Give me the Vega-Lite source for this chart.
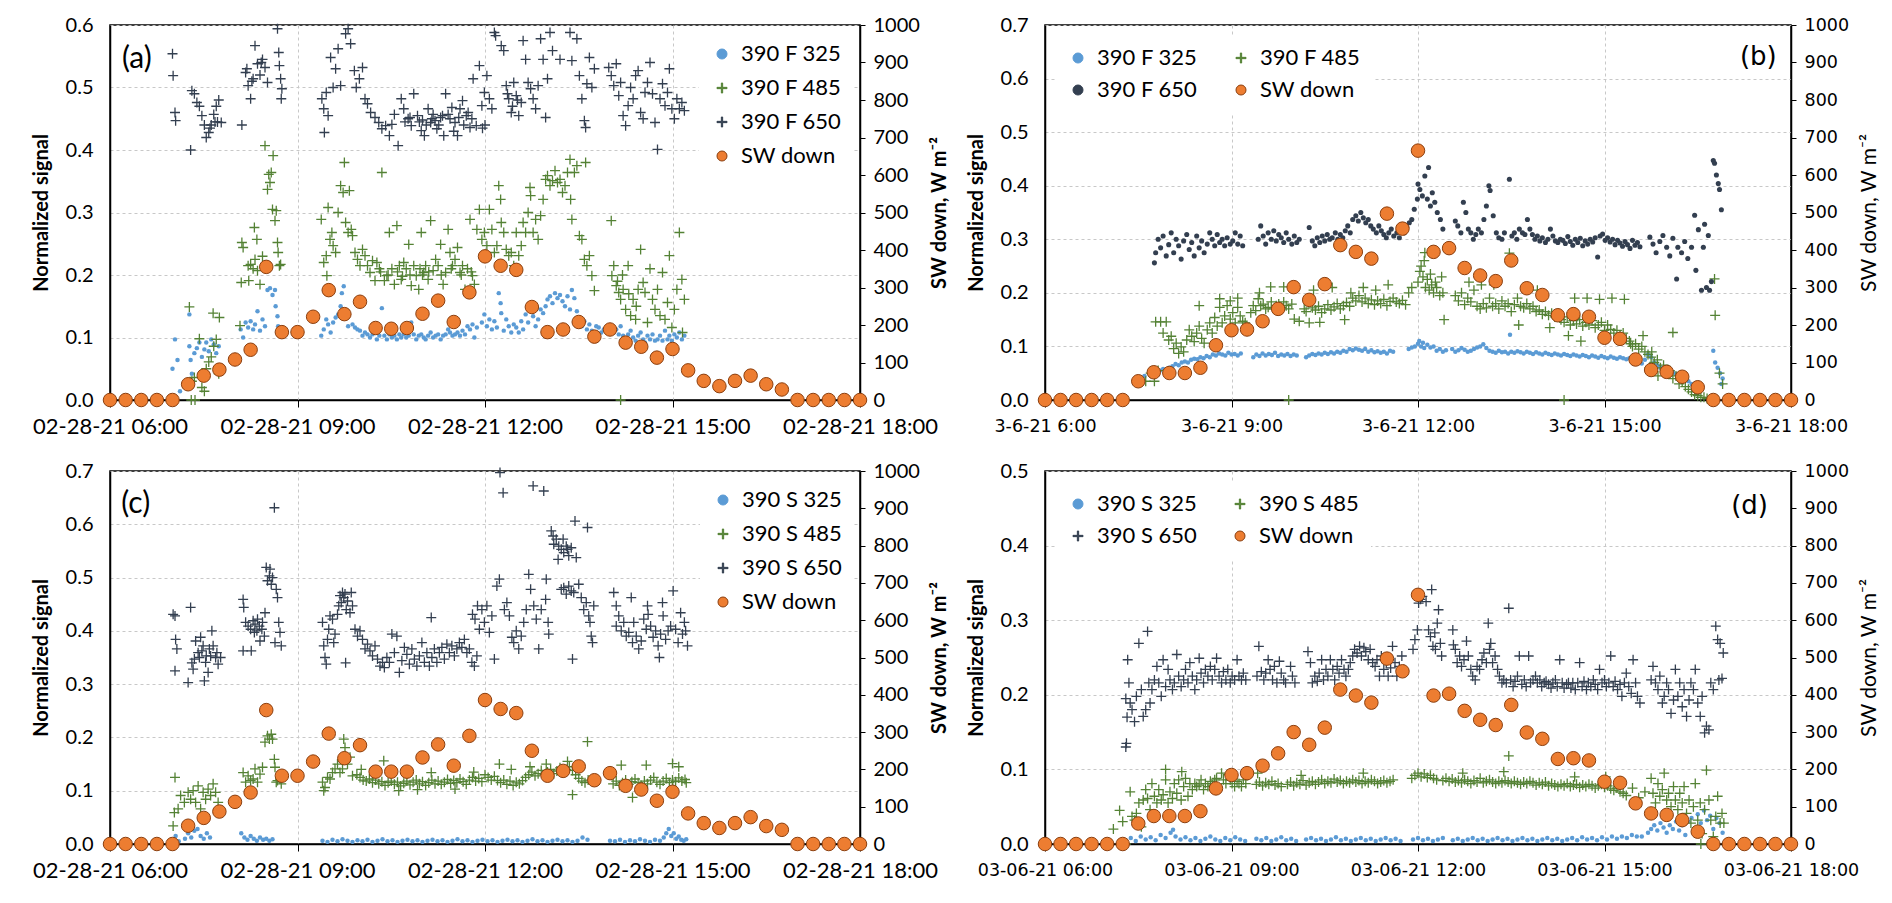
{
"$schema":"https://vega.github.io/schema/vega-lite/v6.json",
"background":"white",
"padding":{"left":30,"top":14,"right":5,"bottom":5},
"config":{
 "font":"Lato",
 "view":{"stroke":"#000","strokeWidth":1.5},
 "axis":{"labelColor":"#000","titleColor":"#000","domainColor":"#000","domainWidth":1.5,"tickColor":"#000","gridColor":"#C8C8C8","gridDash":[3,3],"gridWidth":1,"labelFont":"Lato","titleFont":"Lato","labelFontSize":20,"titleFontSize":20},
 "legend":{"labelFont":"Lato","labelFontSize":22,"labelColor":"#000","labelLimit":300}
},
"datasets":{
"a":[
{"s":"390 F 325","t":7.0,"v":0.05},{"s":"390 F 325","t":7.04,"v":0.097},{"s":"390 F 325","t":7.08,"v":0.064},{"s":"390 F 325","t":7.12,"v":0.014},{"s":"390 F 325","t":7.27,"v":0.086},{"s":"390 F 325","t":7.29,"v":0.064},{"s":"390 F 325","t":7.31,"v":0.042},{"s":"390 F 325","t":7.35,"v":0.075},{"s":"390 F 325","t":7.39,"v":0.083},{"s":"390 F 325","t":7.43,"v":0.092},{"s":"390 F 325","t":7.47,"v":0.069},{"s":"390 F 325","t":7.51,"v":0.081},{"s":"390 F 325","t":7.54,"v":0.092},{"s":"390 F 325","t":7.58,"v":0.078},{"s":"390 F 325","t":7.62,"v":0.097},{"s":"390 F 325","t":7.66,"v":0.089},{"s":"390 F 325","t":7.7,"v":0.075},{"s":"390 F 325","t":7.74,"v":0.086},{"s":"390 F 325","t":7.27,"v":0.137},
{"s":"390 F 325","t":8.09,"v":0.113},{"s":"390 F 325","t":8.13,"v":0.1},{"s":"390 F 325","t":8.17,"v":0.124},{"s":"390 F 325","t":8.21,"v":0.116},{"s":"390 F 325","t":8.25,"v":0.126},{"s":"390 F 325","t":8.29,"v":0.113},{"s":"390 F 325","t":8.32,"v":0.121},{"s":"390 F 325","t":8.36,"v":0.142},{"s":"390 F 325","t":8.4,"v":0.111},{"s":"390 F 325","t":8.44,"v":0.129},{"s":"390 F 325","t":8.48,"v":0.118},{"s":"390 F 325","t":8.52,"v":0.176},{"s":"390 F 325","t":8.56,"v":0.179},{"s":"390 F 325","t":8.6,"v":0.168},{"s":"390 F 325","t":8.64,"v":0.176},{"s":"390 F 325","t":8.65,"v":0.15},{"s":"390 F 325","t":8.68,"v":0.134},{"s":"390 F 325","t":8.69,"v":0.118},{"s":"390 F 325","t":8.71,"v":0.108},{"s":"390 F 325","t":8.75,"v":0.105},
{"s":"390 F 325","t":9.38,"v":0.103},{"s":"390 F 325","t":9.42,"v":0.113},{"s":"390 F 325","t":9.46,"v":0.129},{"s":"390 F 325","t":9.49,"v":0.121},{"s":"390 F 325","t":9.53,"v":0.108},{"s":"390 F 325","t":9.57,"v":0.124},{"s":"390 F 325","t":9.61,"v":0.132},{"s":"390 F 325","t":9.65,"v":0.137},{"s":"390 F 325","t":9.69,"v":0.15},{"s":"390 F 325","t":9.71,"v":0.171},{"s":"390 F 325","t":9.74,"v":0.182},{"s":"390 F 325","t":9.77,"v":0.137},{"s":"390 F 325","t":9.81,"v":0.118},
{"s":"390 F 325","t":9.88,"v":0.121},{"s":"390 F 325","t":9.92,"v":0.116},{"s":"390 F 325","t":9.96,"v":0.113},{"s":"390 F 325","t":10.0,"v":0.111},{"s":"390 F 325","t":10.04,"v":0.103},{"s":"390 F 325","t":10.08,"v":0.108},{"s":"390 F 325","t":10.12,"v":0.105},{"s":"390 F 325","t":10.16,"v":0.1},{"s":"390 F 325","t":10.2,"v":0.105},{"s":"390 F 325","t":10.24,"v":0.108},{"s":"390 F 325","t":10.27,"v":0.097},{"s":"390 F 325","t":10.31,"v":0.103},{"s":"390 F 325","t":10.35,"v":0.147},{"s":"390 F 325","t":10.39,"v":0.103},{"s":"390 F 325","t":10.43,"v":0.097},{"s":"390 F 325","t":10.47,"v":0.105},{"s":"390 F 325","t":10.51,"v":0.1},{"s":"390 F 325","t":10.55,"v":0.103},{"s":"390 F 325","t":10.59,"v":0.097},{"s":"390 F 325","t":10.63,"v":0.105},{"s":"390 F 325","t":10.66,"v":0.1},{"s":"390 F 325","t":10.7,"v":0.105},{"s":"390 F 325","t":10.74,"v":0.1},{"s":"390 F 325","t":10.78,"v":0.103},{"s":"390 F 325","t":10.82,"v":0.124},{"s":"390 F 325","t":10.86,"v":0.105},{"s":"390 F 325","t":10.9,"v":0.097},{"s":"390 F 325","t":10.94,"v":0.103},{"s":"390 F 325","t":10.98,"v":0.105},{"s":"390 F 325","t":11.02,"v":0.1},{"s":"390 F 325","t":11.05,"v":0.097},{"s":"390 F 325","t":11.09,"v":0.103},{"s":"390 F 325","t":11.13,"v":0.108},{"s":"390 F 325","t":11.17,"v":0.1},{"s":"390 F 325","t":11.21,"v":0.103},{"s":"390 F 325","t":11.25,"v":0.105},{"s":"390 F 325","t":11.29,"v":0.097},{"s":"390 F 325","t":11.33,"v":0.103},{"s":"390 F 325","t":11.37,"v":0.105},{"s":"390 F 325","t":11.41,"v":0.113},{"s":"390 F 325","t":11.44,"v":0.108},{"s":"390 F 325","t":11.48,"v":0.103},{"s":"390 F 325","t":11.52,"v":0.105},{"s":"390 F 325","t":11.56,"v":0.108},{"s":"390 F 325","t":11.6,"v":0.103},{"s":"390 F 325","t":11.64,"v":0.111},{"s":"390 F 325","t":11.68,"v":0.105},{"s":"390 F 325","t":11.72,"v":0.118},{"s":"390 F 325","t":11.76,"v":0.113},{"s":"390 F 325","t":11.8,"v":0.121},{"s":"390 F 325","t":11.83,"v":0.1},{"s":"390 F 325","t":11.87,"v":0.116},
{"s":"390 F 325","t":11.95,"v":0.124},{"s":"390 F 325","t":11.99,"v":0.137},{"s":"390 F 325","t":12.03,"v":0.118},{"s":"390 F 325","t":12.07,"v":0.129},{"s":"390 F 325","t":12.11,"v":0.113},{"s":"390 F 325","t":12.15,"v":0.126},{"s":"390 F 325","t":12.19,"v":0.116},{"s":"390 F 325","t":12.22,"v":0.171},{"s":"390 F 325","t":12.25,"v":0.155},{"s":"390 F 325","t":12.26,"v":0.139},{"s":"390 F 325","t":12.3,"v":0.111},{"s":"390 F 325","t":12.34,"v":0.129},{"s":"390 F 325","t":12.38,"v":0.118},{"s":"390 F 325","t":12.42,"v":0.108},{"s":"390 F 325","t":12.46,"v":0.121},{"s":"390 F 325","t":12.5,"v":0.116},{"s":"390 F 325","t":12.54,"v":0.108},{"s":"390 F 325","t":12.58,"v":0.126},{"s":"390 F 325","t":12.61,"v":0.113},{"s":"390 F 325","t":12.65,"v":0.137},{"s":"390 F 325","t":12.69,"v":0.124},{"s":"390 F 325","t":12.73,"v":0.147},{"s":"390 F 325","t":12.77,"v":0.134},{"s":"390 F 325","t":12.81,"v":0.118},{"s":"390 F 325","t":12.85,"v":0.129},{"s":"390 F 325","t":12.89,"v":0.145},
{"s":"390 F 325","t":12.93,"v":0.139},{"s":"390 F 325","t":12.97,"v":0.15},{"s":"390 F 325","t":13.0,"v":0.161},{"s":"390 F 325","t":13.04,"v":0.166},{"s":"390 F 325","t":13.08,"v":0.155},{"s":"390 F 325","t":13.12,"v":0.171},{"s":"390 F 325","t":13.16,"v":0.163},{"s":"390 F 325","t":13.2,"v":0.168},{"s":"390 F 325","t":13.24,"v":0.158},{"s":"390 F 325","t":13.28,"v":0.15},{"s":"390 F 325","t":13.32,"v":0.166},{"s":"390 F 325","t":13.36,"v":0.145},{"s":"390 F 325","t":13.39,"v":0.176},{"s":"390 F 325","t":13.43,"v":0.163},{"s":"390 F 325","t":13.47,"v":0.142},{"s":"390 F 325","t":13.51,"v":0.129},{"s":"390 F 325","t":13.55,"v":0.118},{"s":"390 F 325","t":13.59,"v":0.126},{"s":"390 F 325","t":13.63,"v":0.113},{"s":"390 F 325","t":13.67,"v":0.121},{"s":"390 F 325","t":13.71,"v":0.111},{"s":"390 F 325","t":13.75,"v":0.108},{"s":"390 F 325","t":13.78,"v":0.118},{"s":"390 F 325","t":13.82,"v":0.116},{"s":"390 F 325","t":13.86,"v":0.108},{"s":"390 F 325","t":13.9,"v":0.113},
{"s":"390 F 325","t":13.98,"v":0.111},{"s":"390 F 325","t":14.02,"v":0.116},{"s":"390 F 325","t":14.06,"v":0.108},{"s":"390 F 325","t":14.1,"v":0.113},{"s":"390 F 325","t":14.14,"v":0.105},{"s":"390 F 325","t":14.17,"v":0.118},{"s":"390 F 325","t":14.21,"v":0.103},{"s":"390 F 325","t":14.25,"v":0.097},{"s":"390 F 325","t":14.29,"v":0.105},{"s":"390 F 325","t":14.33,"v":0.111},{"s":"390 F 325","t":14.37,"v":0.1},{"s":"390 F 325","t":14.41,"v":0.095},{"s":"390 F 325","t":14.45,"v":0.103},{"s":"390 F 325","t":14.49,"v":0.108},{"s":"390 F 325","t":14.53,"v":0.097},{"s":"390 F 325","t":14.56,"v":0.092},{"s":"390 F 325","t":14.6,"v":0.103},{"s":"390 F 325","t":14.64,"v":0.097},{"s":"390 F 325","t":14.68,"v":0.105},{"s":"390 F 325","t":14.72,"v":0.095},{"s":"390 F 325","t":14.76,"v":0.097},{"s":"390 F 325","t":14.8,"v":0.103},{"s":"390 F 325","t":14.84,"v":0.095},{"s":"390 F 325","t":14.88,"v":0.111},{"s":"390 F 325","t":14.92,"v":0.097},{"s":"390 F 325","t":14.95,"v":0.103},{"s":"390 F 325","t":14.99,"v":0.095},{"s":"390 F 325","t":15.03,"v":0.105},{"s":"390 F 325","t":15.07,"v":0.1},{"s":"390 F 325","t":15.11,"v":0.108},{"s":"390 F 325","t":15.15,"v":0.097},{"s":"390 F 325","t":15.19,"v":0.103},
{"s":"390 F 485","t":7.27,"v":0.149},{"s":"390 F 485","t":7.31,"v":0.03},{"s":"390 F 485","t":7.35,"v":0.036},{"s":"390 F 485","t":7.43,"v":0.098},{"s":"390 F 485","t":7.47,"v":0.02},{"s":"390 F 485","t":7.51,"v":0.014},{"s":"390 F 485","t":7.54,"v":0.05},{"s":"390 F 485","t":7.58,"v":0.061},{"s":"390 F 485","t":7.62,"v":0.069},{"s":"390 F 485","t":7.66,"v":0.086},{"s":"390 F 485","t":7.7,"v":0.097},{"s":"390 F 485","t":7.74,"v":0.042},{"s":"390 F 485","t":7.65,"v":0.139},{"s":"390 F 485","t":7.75,"v":0.132},{"s":"390 F 485","t":7.3,"v":0.0},{"s":"390 F 485","t":7.36,"v":0.0},
{"s":"390 F 485","t":8.11,"v":0.252},{"s":"390 F 485","t":8.13,"v":0.244},{"s":"390 F 485","t":8.21,"v":0.215},{"s":"390 F 485","t":8.25,"v":0.217},{"s":"390 F 485","t":8.29,"v":0.21},{"s":"390 F 485","t":8.32,"v":0.225},{"s":"390 F 485","t":8.36,"v":0.207},{"s":"390 F 485","t":8.4,"v":0.185},{"s":"390 F 485","t":8.22,"v":0.191},{"s":"390 F 485","t":8.31,"v":0.276},{"s":"390 F 485","t":8.35,"v":0.257},{"s":"390 F 485","t":8.44,"v":0.23},{"s":"390 F 485","t":8.48,"v":0.407},{"s":"390 F 485","t":8.52,"v":0.337},{"s":"390 F 485","t":8.54,"v":0.361},{"s":"390 F 485","t":8.56,"v":0.348},{"s":"390 F 485","t":8.58,"v":0.364},{"s":"390 F 485","t":8.6,"v":0.305},{"s":"390 F 485","t":8.61,"v":0.391},{"s":"390 F 485","t":8.64,"v":0.287},{"s":"390 F 485","t":8.66,"v":0.303},{"s":"390 F 485","t":8.68,"v":0.252},{"s":"390 F 485","t":8.69,"v":0.236},{"s":"390 F 485","t":8.71,"v":0.215},{"s":"390 F 485","t":8.73,"v":0.217},{"s":"390 F 485","t":8.1,"v":0.188},{"s":"390 F 485","t":8.08,"v":0.119},
{"s":"390 F 485","t":9.38,"v":0.289},{"s":"390 F 485","t":9.42,"v":0.22},{"s":"390 F 485","t":9.46,"v":0.231},{"s":"390 F 485","t":9.47,"v":0.199},{"s":"390 F 485","t":9.49,"v":0.308},{"s":"390 F 485","t":9.52,"v":0.257},{"s":"390 F 485","t":9.55,"v":0.268},{"s":"390 F 485","t":9.57,"v":0.247},{"s":"390 F 485","t":9.61,"v":0.236},{"s":"390 F 485","t":9.65,"v":0.3},{"s":"390 F 485","t":9.69,"v":0.343},{"s":"390 F 485","t":9.73,"v":0.332},{"s":"390 F 485","t":9.75,"v":0.38},{"s":"390 F 485","t":9.77,"v":0.284},{"s":"390 F 485","t":9.81,"v":0.268},{"s":"390 F 485","t":9.83,"v":0.335},{"s":"390 F 485","t":9.86,"v":0.273},{"s":"390 F 485","t":9.88,"v":0.263},{"s":"390 F 485","t":9.92,"v":0.236},{"s":"390 F 485","t":9.96,"v":0.225},{"s":"390 F 485","t":10.0,"v":0.215},{"s":"390 F 485","t":10.04,"v":0.241},{"s":"390 F 485","t":10.08,"v":0.231},{"s":"390 F 485","t":10.12,"v":0.215},{"s":"390 F 485","t":10.16,"v":0.204},{"s":"390 F 485","t":10.2,"v":0.223},{"s":"390 F 485","t":10.24,"v":0.191},{"s":"390 F 485","t":10.27,"v":0.22},{"s":"390 F 485","t":10.31,"v":0.21},{"s":"390 F 485","t":10.35,"v":0.364},{"s":"390 F 485","t":10.39,"v":0.191},{"s":"390 F 485","t":10.43,"v":0.199},{"s":"390 F 485","t":10.47,"v":0.268},{"s":"390 F 485","t":10.51,"v":0.21},{"s":"390 F 485","t":10.55,"v":0.185},{"s":"390 F 485","t":10.59,"v":0.279},{"s":"390 F 485","t":10.63,"v":0.215},{"s":"390 F 485","t":10.66,"v":0.193},{"s":"390 F 485","t":10.7,"v":0.22},{"s":"390 F 485","t":10.74,"v":0.21},{"s":"390 F 485","t":10.78,"v":0.249},{"s":"390 F 485","t":10.82,"v":0.183},{"s":"390 F 485","t":10.86,"v":0.215},{"s":"390 F 485","t":10.9,"v":0.199},{"s":"390 F 485","t":10.94,"v":0.177},{"s":"390 F 485","t":10.98,"v":0.268},{"s":"390 F 485","t":11.02,"v":0.204},{"s":"390 F 485","t":11.05,"v":0.215},{"s":"390 F 485","t":11.09,"v":0.193},{"s":"390 F 485","t":11.13,"v":0.287},{"s":"390 F 485","t":11.17,"v":0.207},{"s":"390 F 485","t":11.21,"v":0.225},{"s":"390 F 485","t":11.25,"v":0.215},{"s":"390 F 485","t":11.29,"v":0.249},{"s":"390 F 485","t":11.33,"v":0.185},{"s":"390 F 485","t":11.37,"v":0.204},{"s":"390 F 485","t":11.41,"v":0.273},{"s":"390 F 485","t":11.44,"v":0.236},{"s":"390 F 485","t":11.48,"v":0.215},{"s":"390 F 485","t":11.52,"v":0.225},{"s":"390 F 485","t":11.56,"v":0.244},{"s":"390 F 485","t":11.6,"v":0.204},{"s":"390 F 485","t":11.64,"v":0.215},{"s":"390 F 485","t":11.68,"v":0.177},{"s":"390 F 485","t":11.72,"v":0.21},{"s":"390 F 485","t":11.76,"v":0.289},{"s":"390 F 485","t":11.8,"v":0.199},{"s":"390 F 485","t":11.83,"v":0.185},{"s":"390 F 485","t":11.87,"v":0.273},
{"s":"390 F 485","t":10.45,"v":0.2},{"s":"390 F 485","t":10.6,"v":0.205},{"s":"390 F 485","t":10.8,"v":0.2},{"s":"390 F 485","t":10.96,"v":0.21},{"s":"390 F 485","t":11.1,"v":0.205},{"s":"390 F 485","t":11.3,"v":0.2},{"s":"390 F 485","t":11.46,"v":0.21},{"s":"390 F 485","t":11.62,"v":0.2},{"s":"390 F 485","t":11.78,"v":0.205},{"s":"390 F 485","t":10.33,"v":0.205},{"s":"390 F 485","t":10.68,"v":0.198},{"s":"390 F 485","t":11.0,"v":0.2},
{"s":"390 F 485","t":11.91,"v":0.305},{"s":"390 F 485","t":11.95,"v":0.257},{"s":"390 F 485","t":11.99,"v":0.268},{"s":"390 F 485","t":12.03,"v":0.247},{"s":"390 F 485","t":12.07,"v":0.305},{"s":"390 F 485","t":12.11,"v":0.273},{"s":"390 F 485","t":12.15,"v":0.236},{"s":"390 F 485","t":12.19,"v":0.247},{"s":"390 F 485","t":12.22,"v":0.343},{"s":"390 F 485","t":12.25,"v":0.321},{"s":"390 F 485","t":12.26,"v":0.284},{"s":"390 F 485","t":12.3,"v":0.268},{"s":"390 F 485","t":12.34,"v":0.241},{"s":"390 F 485","t":12.38,"v":0.231},{"s":"390 F 485","t":12.42,"v":0.236},{"s":"390 F 485","t":12.46,"v":0.215},{"s":"390 F 485","t":12.5,"v":0.268},{"s":"390 F 485","t":12.54,"v":0.231},{"s":"390 F 485","t":12.58,"v":0.247},{"s":"390 F 485","t":12.61,"v":0.284},{"s":"390 F 485","t":12.65,"v":0.268},{"s":"390 F 485","t":12.69,"v":0.3},{"s":"390 F 485","t":12.72,"v":0.34},{"s":"390 F 485","t":12.73,"v":0.327},{"s":"390 F 485","t":12.77,"v":0.268},{"s":"390 F 485","t":12.81,"v":0.289},{"s":"390 F 485","t":12.85,"v":0.257},{"s":"390 F 485","t":12.89,"v":0.295},{"s":"390 F 485","t":12.93,"v":0.321},{"s":"390 F 485","t":12.97,"v":0.353},{"s":"390 F 485","t":13.0,"v":0.359},{"s":"390 F 485","t":13.04,"v":0.343},{"s":"390 F 485","t":13.08,"v":0.351},{"s":"390 F 485","t":13.12,"v":0.367},{"s":"390 F 485","t":13.16,"v":0.348},{"s":"390 F 485","t":13.2,"v":0.353},{"s":"390 F 485","t":13.24,"v":0.332},{"s":"390 F 485","t":13.28,"v":0.343},{"s":"390 F 485","t":13.32,"v":0.364},{"s":"390 F 485","t":13.36,"v":0.385},{"s":"390 F 485","t":13.37,"v":0.321},{"s":"390 F 485","t":13.39,"v":0.289},{"s":"390 F 485","t":13.43,"v":0.364},{"s":"390 F 485","t":13.47,"v":0.375},{"s":"390 F 485","t":13.51,"v":0.263},{"s":"390 F 485","t":13.55,"v":0.257},{"s":"390 F 485","t":13.59,"v":0.225},{"s":"390 F 485","t":13.61,"v":0.38},{"s":"390 F 485","t":13.63,"v":0.215},{"s":"390 F 485","t":13.67,"v":0.231},{"s":"390 F 485","t":13.71,"v":0.199},{"s":"390 F 485","t":13.75,"v":0.175},
{"s":"390 F 485","t":14.02,"v":0.287},{"s":"390 F 485","t":14.03,"v":0.199},{"s":"390 F 485","t":14.06,"v":0.215},{"s":"390 F 485","t":14.1,"v":0.183},{"s":"390 F 485","t":14.14,"v":0.172},{"s":"390 F 485","t":14.17,"v":0.161},{"s":"390 F 485","t":14.21,"v":0.177},{"s":"390 F 485","t":14.25,"v":0.145},{"s":"390 F 485","t":14.29,"v":0.215},{"s":"390 F 485","t":14.33,"v":0.135},{"s":"390 F 485","t":14.37,"v":0.161},{"s":"390 F 485","t":14.41,"v":0.129},{"s":"390 F 485","t":14.45,"v":0.177},{"s":"390 F 485","t":14.49,"v":0.241},{"s":"390 F 485","t":14.53,"v":0.188},{"s":"390 F 485","t":14.56,"v":0.172},{"s":"390 F 485","t":14.6,"v":0.124},{"s":"390 F 485","t":14.64,"v":0.21},{"s":"390 F 485","t":14.68,"v":0.161},{"s":"390 F 485","t":14.72,"v":0.145},{"s":"390 F 485","t":14.76,"v":0.177},{"s":"390 F 485","t":14.8,"v":0.135},{"s":"390 F 485","t":14.84,"v":0.204},{"s":"390 F 485","t":14.88,"v":0.129},{"s":"390 F 485","t":14.92,"v":0.156},{"s":"390 F 485","t":14.95,"v":0.231},{"s":"390 F 485","t":14.99,"v":0.116},{"s":"390 F 485","t":15.03,"v":0.145},{"s":"390 F 485","t":15.07,"v":0.177},{"s":"390 F 485","t":15.11,"v":0.268},{"s":"390 F 485","t":15.15,"v":0.193},{"s":"390 F 485","t":15.19,"v":0.161},{"s":"390 F 485","t":15.16,"v":0.108},{"s":"390 F 485","t":14.17,"v":0.0},{"s":"390 F 485","t":14.12,"v":0.19},{"s":"390 F 485","t":14.2,"v":0.2},{"s":"390 F 485","t":14.3,"v":0.17},{"s":"390 F 485","t":14.42,"v":0.15},
{"s":"390 F 650","t":7.0,"v":0.554},{"s":"390 F 650","t":7.01,"v":0.519},{"s":"390 F 650","t":7.04,"v":0.46},{"s":"390 F 650","t":7.05,"v":0.447},{"s":"390 F 650","t":7.29,"v":0.4},{"s":"390 F 650","t":7.31,"v":0.495},{"s":"390 F 650","t":7.35,"v":0.49},{"s":"390 F 650","t":7.39,"v":0.476},{"s":"390 F 650","t":7.43,"v":0.47},{"s":"390 F 650","t":7.47,"v":0.455},{"s":"390 F 650","t":7.51,"v":0.44},{"s":"390 F 650","t":7.54,"v":0.42},{"s":"390 F 650","t":7.58,"v":0.428},{"s":"390 F 650","t":7.6,"v":0.435},{"s":"390 F 650","t":7.62,"v":0.44},{"s":"390 F 650","t":7.66,"v":0.457},{"s":"390 F 650","t":7.68,"v":0.445},{"s":"390 F 650","t":7.7,"v":0.47},{"s":"390 F 650","t":7.72,"v":0.445},{"s":"390 F 650","t":7.74,"v":0.48},{"s":"390 F 650","t":7.78,"v":0.444},
{"s":"390 F 650","t":8.11,"v":0.44},{"s":"390 F 650","t":8.17,"v":0.524},{"s":"390 F 650","t":8.19,"v":0.53},{"s":"390 F 650","t":8.21,"v":0.503},{"s":"390 F 650","t":8.25,"v":0.482},{"s":"390 F 650","t":8.27,"v":0.51},{"s":"390 F 650","t":8.29,"v":0.514},{"s":"390 F 650","t":8.32,"v":0.567},{"s":"390 F 650","t":8.36,"v":0.538},{"s":"390 F 650","t":8.4,"v":0.52},{"s":"390 F 650","t":8.42,"v":0.54},{"s":"390 F 650","t":8.44,"v":0.545},{"s":"390 F 650","t":8.48,"v":0.532},{"s":"390 F 650","t":8.52,"v":0.508},
{"s":"390 F 650","t":8.68,"v":0.594},{"s":"390 F 650","t":8.7,"v":0.556},{"s":"390 F 650","t":8.71,"v":0.535},{"s":"390 F 650","t":8.73,"v":0.514},{"s":"390 F 650","t":8.74,"v":0.482},{"s":"390 F 650","t":8.75,"v":0.498},
{"s":"390 F 650","t":9.39,"v":0.482},{"s":"390 F 650","t":9.42,"v":0.466},{"s":"390 F 650","t":9.43,"v":0.428},{"s":"390 F 650","t":9.46,"v":0.492},{"s":"390 F 650","t":9.49,"v":0.455},{"s":"390 F 650","t":9.53,"v":0.548},{"s":"390 F 650","t":9.57,"v":0.5},{"s":"390 F 650","t":9.61,"v":0.53},{"s":"390 F 650","t":9.65,"v":0.562},{"s":"390 F 650","t":9.69,"v":0.503},{"s":"390 F 650","t":9.77,"v":0.586},{"s":"390 F 650","t":9.81,"v":0.594},{"s":"390 F 650","t":9.85,"v":0.57},
{"s":"390 F 650","t":9.91,"v":0.527},{"s":"390 F 650","t":9.94,"v":0.5},{"s":"390 F 650","t":9.99,"v":0.514},{"s":"390 F 650","t":10.04,"v":0.532},{"s":"390 F 650","t":10.08,"v":0.482},
{"s":"390 F 650","t":10.12,"v":0.474},{"s":"390 F 650","t":10.17,"v":0.46},{"s":"390 F 650","t":10.24,"v":0.452},{"s":"390 F 650","t":10.3,"v":0.444},{"s":"390 F 650","t":10.35,"v":0.434},{"s":"390 F 650","t":10.41,"v":0.439},{"s":"390 F 650","t":10.47,"v":0.423},{"s":"390 F 650","t":10.51,"v":0.441},{"s":"390 F 650","t":10.55,"v":0.457},{"s":"390 F 650","t":10.61,"v":0.407},
{"s":"390 F 650","t":10.66,"v":0.482},{"s":"390 F 650","t":10.7,"v":0.466},{"s":"390 F 650","t":10.72,"v":0.445},{"s":"390 F 650","t":10.77,"v":0.45},{"s":"390 F 650","t":10.8,"v":0.452},{"s":"390 F 650","t":10.82,"v":0.439},{"s":"390 F 650","t":10.86,"v":0.49},{"s":"390 F 650","t":10.92,"v":0.455},{"s":"390 F 650","t":10.95,"v":0.445},{"s":"390 F 650","t":10.98,"v":0.431},{"s":"390 F 650","t":11.0,"v":0.448},{"s":"390 F 650","t":11.03,"v":0.423},{"s":"390 F 650","t":11.06,"v":0.44},{"s":"390 F 650","t":11.09,"v":0.466},{"s":"390 F 650","t":11.13,"v":0.444},{"s":"390 F 650","t":11.15,"v":0.45},{"s":"390 F 650","t":11.17,"v":0.457},{"s":"390 F 650","t":11.2,"v":0.447},{"s":"390 F 650","t":11.23,"v":0.434},{"s":"390 F 650","t":11.26,"v":0.44},{"s":"390 F 650","t":11.29,"v":0.452},{"s":"390 F 650","t":11.32,"v":0.455},{"s":"390 F 650","t":11.34,"v":0.423},{"s":"390 F 650","t":11.37,"v":0.49},{"s":"390 F 650","t":11.41,"v":0.457},{"s":"390 F 650","t":11.44,"v":0.45},{"s":"390 F 650","t":11.47,"v":0.468},{"s":"390 F 650","t":11.5,"v":0.43},{"s":"390 F 650","t":11.52,"v":0.444},{"s":"390 F 650","t":11.56,"v":0.423},{"s":"390 F 650","t":11.58,"v":0.452},{"s":"390 F 650","t":11.6,"v":0.466},{"s":"390 F 650","t":11.64,"v":0.479},{"s":"390 F 650","t":11.66,"v":0.44},{"s":"390 F 650","t":11.7,"v":0.455},{"s":"390 F 650","t":11.73,"v":0.46},{"s":"390 F 650","t":11.76,"v":0.436},{"s":"390 F 650","t":11.79,"v":0.45},{"s":"390 F 650","t":11.81,"v":0.514},{"s":"390 F 650","t":11.86,"v":0.439},{"s":"390 F 650","t":11.91,"v":0.535},{"s":"390 F 650","t":11.95,"v":0.471},{"s":"390 F 650","t":11.96,"v":0.435},{"s":"390 F 650","t":11.99,"v":0.492},{"s":"390 F 650","t":12.0,"v":0.44},{"s":"390 F 650","t":12.03,"v":0.519},{"s":"390 F 650","t":12.07,"v":0.482},{"s":"390 F 650","t":12.11,"v":0.466},{"s":"390 F 650","t":12.15,"v":0.588},{"s":"390 F 650","t":12.17,"v":0.583},
{"s":"390 F 650","t":12.26,"v":0.567},{"s":"390 F 650","t":12.3,"v":0.559},{"s":"390 F 650","t":12.34,"v":0.503},{"s":"390 F 650","t":12.36,"v":0.49},{"s":"390 F 650","t":12.38,"v":0.482},{"s":"390 F 650","t":12.42,"v":0.46},{"s":"390 F 650","t":12.44,"v":0.47},{"s":"390 F 650","t":12.46,"v":0.508},{"s":"390 F 650","t":12.5,"v":0.487},{"s":"390 F 650","t":12.52,"v":0.48},{"s":"390 F 650","t":12.54,"v":0.455},{"s":"390 F 650","t":12.58,"v":0.476},{"s":"390 F 650","t":12.61,"v":0.575},{"s":"390 F 650","t":12.65,"v":0.545},{"s":"390 F 650","t":12.69,"v":0.508},{"s":"390 F 650","t":12.73,"v":0.498},{"s":"390 F 650","t":12.77,"v":0.482},{"s":"390 F 650","t":12.81,"v":0.466},{"s":"390 F 650","t":12.85,"v":0.503},{"s":"390 F 650","t":12.89,"v":0.578},{"s":"390 F 650","t":12.93,"v":0.545},{"s":"390 F 650","t":12.97,"v":0.452},{"s":"390 F 650","t":13.0,"v":0.514},{"s":"390 F 650","t":13.04,"v":0.588},
{"s":"390 F 650","t":13.08,"v":0.559},{"s":"390 F 650","t":13.2,"v":0.545},{"s":"390 F 650","t":13.36,"v":0.588},{"s":"390 F 650","t":13.39,"v":0.543},{"s":"390 F 650","t":13.47,"v":0.578},{"s":"390 F 650","t":13.51,"v":0.519},{"s":"390 F 650","t":13.55,"v":0.482},{"s":"390 F 650","t":13.59,"v":0.447},{"s":"390 F 650","t":13.61,"v":0.436},{"s":"390 F 650","t":13.63,"v":0.506},{"s":"390 F 650","t":13.67,"v":0.548},{"s":"390 F 650","t":13.71,"v":0.5},{"s":"390 F 650","t":13.75,"v":0.53},
{"s":"390 F 650","t":13.98,"v":0.532},{"s":"390 F 650","t":14.02,"v":0.519},{"s":"390 F 650","t":14.06,"v":0.503},{"s":"390 F 650","t":14.1,"v":0.538},{"s":"390 F 650","t":14.14,"v":0.487},{"s":"390 F 650","t":14.17,"v":0.508},{"s":"390 F 650","t":14.21,"v":0.455},{"s":"390 F 650","t":14.25,"v":0.439},{"s":"390 F 650","t":14.29,"v":0.471},{"s":"390 F 650","t":14.33,"v":0.5},{"s":"390 F 650","t":14.37,"v":0.482},{"s":"390 F 650","t":14.41,"v":0.519},{"s":"390 F 650","t":14.45,"v":0.527},{"s":"390 F 650","t":14.49,"v":0.46},{"s":"390 F 650","t":14.53,"v":0.45},{"s":"390 F 650","t":14.56,"v":0.492},{"s":"390 F 650","t":14.6,"v":0.508},{"s":"390 F 650","t":14.64,"v":0.54},{"s":"390 F 650","t":14.68,"v":0.49},{"s":"390 F 650","t":14.72,"v":0.444},{"s":"390 F 650","t":14.76,"v":0.401},{"s":"390 F 650","t":14.8,"v":0.482},{"s":"390 F 650","t":14.84,"v":0.506},{"s":"390 F 650","t":14.88,"v":0.471},{"s":"390 F 650","t":14.92,"v":0.492},{"s":"390 F 650","t":14.95,"v":0.53},{"s":"390 F 650","t":14.99,"v":0.466},{"s":"390 F 650","t":15.03,"v":0.45},{"s":"390 F 650","t":15.07,"v":0.482},{"s":"390 F 650","t":15.11,"v":0.466},{"s":"390 F 650","t":15.15,"v":0.476},{"s":"390 F 650","t":15.19,"v":0.463}
],
"aw":[
{"s":"SW down","t":6.0,"w":0},{"s":"SW down","t":6.25,"w":0},{"s":"SW down","t":6.5,"w":0},{"s":"SW down","t":6.75,"w":0},{"s":"SW down","t":7.0,"w":0},{"s":"SW down","t":7.25,"w":42},{"s":"SW down","t":7.5,"w":65},{"s":"SW down","t":7.75,"w":81},{"s":"SW down","t":8.0,"w":108},{"s":"SW down","t":8.25,"w":134},{"s":"SW down","t":8.5,"w":355},{"s":"SW down","t":8.75,"w":181},{"s":"SW down","t":9.0,"w":181},{"s":"SW down","t":9.25,"w":222},{"s":"SW down","t":9.5,"w":293},{"s":"SW down","t":9.75,"w":229},{"s":"SW down","t":10.0,"w":262},{"s":"SW down","t":10.25,"w":192},{"s":"SW down","t":10.5,"w":190},{"s":"SW down","t":10.75,"w":192},{"s":"SW down","t":11.0,"w":230},{"s":"SW down","t":11.25,"w":265},{"s":"SW down","t":11.5,"w":208},{"s":"SW down","t":11.75,"w":287},{"s":"SW down","t":12.0,"w":383},{"s":"SW down","t":12.25,"w":358},{"s":"SW down","t":12.5,"w":347},{"s":"SW down","t":12.75,"w":248},{"s":"SW down","t":13.0,"w":181},{"s":"SW down","t":13.25,"w":188},{"s":"SW down","t":13.5,"w":208},{"s":"SW down","t":13.75,"w":169},{"s":"SW down","t":14.0,"w":188},{"s":"SW down","t":14.25,"w":153},{"s":"SW down","t":14.5,"w":142},{"s":"SW down","t":14.75,"w":113},{"s":"SW down","t":15.0,"w":136},{"s":"SW down","t":15.25,"w":79},{"s":"SW down","t":15.5,"w":51},{"s":"SW down","t":15.75,"w":37},{"s":"SW down","t":16.0,"w":51},{"s":"SW down","t":16.25,"w":65},{"s":"SW down","t":16.5,"w":42},{"s":"SW down","t":16.75,"w":28},{"s":"SW down","t":17.0,"w":0},{"s":"SW down","t":17.25,"w":0},{"s":"SW down","t":17.5,"w":0},{"s":"SW down","t":17.75,"w":0},{"s":"SW down","t":18.0,"w":0}
],
"b":[
{"s":"390 F 325","t":7.6,"v":0.045},{"s":"390 F 325","t":7.7,"v":0.05},{"s":"390 F 325","t":7.78,"v":0.051},{"s":"390 F 325","t":7.85,"v":0.055},{"s":"390 F 325","t":7.9,"v":0.058},{"s":"390 F 325","t":7.95,"v":0.052},{"s":"390 F 325","t":8.0,"v":0.06},{"s":"390 F 325","t":8.05,"v":0.063},{"s":"390 F 325","t":8.1,"v":0.067},{"s":"390 F 325","t":8.15,"v":0.065},{"s":"390 F 325","t":8.2,"v":0.07},{"s":"390 F 325","t":8.25,"v":0.072},{"s":"390 F 325","t":8.3,"v":0.07},{"s":"390 F 325","t":8.35,"v":0.075},{"s":"390 F 325","t":8.4,"v":0.077},{"s":"390 F 325","t":8.45,"v":0.076},{"s":"390 F 325","t":8.5,"v":0.08},{"s":"390 F 325","t":8.55,"v":0.078},{"s":"390 F 325","t":8.6,"v":0.082},{"s":"390 F 325","t":8.65,"v":0.08},{"s":"390 F 325","t":8.7,"v":0.085},{"s":"390 F 325","t":8.75,"v":0.083},{"s":"390 F 325","t":8.8,"v":0.087},{"s":"390 F 325","t":8.85,"v":0.085},{"s":"390 F 325","t":8.9,"v":0.083},{"s":"390 F 325","t":8.95,"v":0.088},{"s":"390 F 325","t":9.0,"v":0.085},{"s":"390 F 325","t":9.05,"v":0.086},{"s":"390 F 325","t":9.1,"v":0.083},{"s":"390 F 325","t":9.15,"v":0.087},{"s":"390 F 325","t":9.35,"v":0.08},{"s":"390 F 325","t":9.4,"v":0.085},{"s":"390 F 325","t":9.45,"v":0.082},{"s":"390 F 325","t":9.5,"v":0.087},{"s":"390 F 325","t":9.55,"v":0.083},{"s":"390 F 325","t":9.6,"v":0.086},{"s":"390 F 325","t":9.65,"v":0.084},{"s":"390 F 325","t":9.7,"v":0.088},{"s":"390 F 325","t":9.75,"v":0.082},{"s":"390 F 325","t":9.8,"v":0.085},{"s":"390 F 325","t":9.85,"v":0.083},{"s":"390 F 325","t":9.9,"v":0.086},{"s":"390 F 325","t":9.95,"v":0.082},{"s":"390 F 325","t":10.0,"v":0.085},{"s":"390 F 325","t":10.05,"v":0.083},{"s":"390 F 325","t":10.2,"v":0.08},{"s":"390 F 325","t":10.25,"v":0.083},{"s":"390 F 325","t":10.3,"v":0.086},{"s":"390 F 325","t":10.35,"v":0.084},{"s":"390 F 325","t":10.4,"v":0.087},{"s":"390 F 325","t":10.45,"v":0.085},{"s":"390 F 325","t":10.5,"v":0.088},{"s":"390 F 325","t":10.55,"v":0.086},{"s":"390 F 325","t":10.6,"v":0.089},{"s":"390 F 325","t":10.65,"v":0.087},{"s":"390 F 325","t":10.7,"v":0.09},{"s":"390 F 325","t":10.75,"v":0.088},{"s":"390 F 325","t":10.8,"v":0.092},{"s":"390 F 325","t":10.85,"v":0.09},{"s":"390 F 325","t":10.9,"v":0.095},{"s":"390 F 325","t":10.95,"v":0.093},{"s":"390 F 325","t":11.0,"v":0.096},{"s":"390 F 325","t":11.05,"v":0.094},{"s":"390 F 325","t":11.1,"v":0.092},{"s":"390 F 325","t":11.15,"v":0.095},{"s":"390 F 325","t":11.2,"v":0.09},{"s":"390 F 325","t":11.25,"v":0.093},{"s":"390 F 325","t":11.3,"v":0.089},{"s":"390 F 325","t":11.35,"v":0.091},{"s":"390 F 325","t":11.4,"v":0.088},{"s":"390 F 325","t":11.45,"v":0.09},{"s":"390 F 325","t":11.5,"v":0.087},{"s":"390 F 325","t":11.55,"v":0.092},{"s":"390 F 325","t":11.6,"v":0.09},{"s":"390 F 325","t":11.85,"v":0.095},{"s":"390 F 325","t":11.9,"v":0.098},{"s":"390 F 325","t":11.95,"v":0.1},{"s":"390 F 325","t":12.0,"v":0.105},{"s":"390 F 325","t":12.02,"v":0.11},{"s":"390 F 325","t":12.05,"v":0.1},{"s":"390 F 325","t":12.08,"v":0.107},{"s":"390 F 325","t":12.1,"v":0.097},{"s":"390 F 325","t":12.15,"v":0.103},{"s":"390 F 325","t":12.2,"v":0.098},{"s":"390 F 325","t":12.25,"v":0.1},{"s":"390 F 325","t":12.3,"v":0.092},{"s":"390 F 325","t":12.35,"v":0.095},{"s":"390 F 325","t":12.4,"v":0.09},{"s":"390 F 325","t":12.45,"v":0.093},{"s":"390 F 325","t":12.55,"v":0.095},{"s":"390 F 325","t":12.6,"v":0.09},{"s":"390 F 325","t":12.65,"v":0.093},{"s":"390 F 325","t":12.7,"v":0.097},{"s":"390 F 325","t":12.75,"v":0.094},{"s":"390 F 325","t":12.8,"v":0.09},{"s":"390 F 325","t":12.85,"v":0.092},{"s":"390 F 325","t":12.9,"v":0.095},{"s":"390 F 325","t":12.95,"v":0.098},{"s":"390 F 325","t":13.0,"v":0.1},{"s":"390 F 325","t":13.05,"v":0.104},{"s":"390 F 325","t":13.1,"v":0.097},{"s":"390 F 325","t":13.15,"v":0.092},{"s":"390 F 325","t":13.2,"v":0.09},{"s":"390 F 325","t":13.25,"v":0.088},{"s":"390 F 325","t":13.3,"v":0.092},{"s":"390 F 325","t":13.35,"v":0.089},{"s":"390 F 325","t":13.4,"v":0.09},{"s":"390 F 325","t":13.45,"v":0.087},{"s":"390 F 325","t":13.48,"v":0.122},{"s":"390 F 325","t":13.5,"v":0.09},{"s":"390 F 325","t":13.55,"v":0.088},{"s":"390 F 325","t":13.6,"v":0.091},{"s":"390 F 325","t":13.65,"v":0.089},{"s":"390 F 325","t":13.7,"v":0.087},{"s":"390 F 325","t":13.75,"v":0.09},{"s":"390 F 325","t":13.8,"v":0.088},{"s":"390 F 325","t":13.85,"v":0.086},{"s":"390 F 325","t":13.9,"v":0.089},{"s":"390 F 325","t":13.95,"v":0.087},{"s":"390 F 325","t":14.0,"v":0.085},{"s":"390 F 325","t":14.05,"v":0.088},{"s":"390 F 325","t":14.1,"v":0.086},{"s":"390 F 325","t":14.15,"v":0.084},{"s":"390 F 325","t":14.2,"v":0.087},{"s":"390 F 325","t":14.25,"v":0.085},{"s":"390 F 325","t":14.3,"v":0.083},{"s":"390 F 325","t":14.35,"v":0.086},{"s":"390 F 325","t":14.4,"v":0.084},{"s":"390 F 325","t":14.45,"v":0.082},{"s":"390 F 325","t":14.5,"v":0.085},{"s":"390 F 325","t":14.55,"v":0.083},{"s":"390 F 325","t":14.6,"v":0.081},{"s":"390 F 325","t":14.65,"v":0.084},{"s":"390 F 325","t":14.7,"v":0.082},{"s":"390 F 325","t":14.75,"v":0.08},{"s":"390 F 325","t":14.8,"v":0.083},{"s":"390 F 325","t":14.85,"v":0.081},{"s":"390 F 325","t":14.9,"v":0.079},{"s":"390 F 325","t":14.95,"v":0.082},{"s":"390 F 325","t":15.0,"v":0.08},{"s":"390 F 325","t":15.05,"v":0.078},{"s":"390 F 325","t":15.1,"v":0.081},{"s":"390 F 325","t":15.15,"v":0.079},{"s":"390 F 325","t":15.2,"v":0.077},{"s":"390 F 325","t":15.25,"v":0.08},{"s":"390 F 325","t":15.3,"v":0.078},{"s":"390 F 325","t":15.35,"v":0.076},{"s":"390 F 325","t":15.4,"v":0.078},{"s":"390 F 325","t":15.45,"v":0.075},{"s":"390 F 325","t":15.5,"v":0.072},{"s":"390 F 325","t":15.55,"v":0.07},{"s":"390 F 325","t":15.6,"v":0.068},{"s":"390 F 325","t":15.65,"v":0.075},{"s":"390 F 325","t":15.7,"v":0.085},{"s":"390 F 325","t":15.75,"v":0.08},{"s":"390 F 325","t":15.8,"v":0.07},{"s":"390 F 325","t":15.85,"v":0.065},{"s":"390 F 325","t":15.9,"v":0.06},{"s":"390 F 325","t":15.95,"v":0.058},{"s":"390 F 325","t":16.0,"v":0.055},{"s":"390 F 325","t":16.05,"v":0.05},{"s":"390 F 325","t":16.1,"v":0.052},{"s":"390 F 325","t":16.15,"v":0.048},{"s":"390 F 325","t":16.2,"v":0.045},{"s":"390 F 325","t":16.25,"v":0.04},{"s":"390 F 325","t":16.3,"v":0.042},{"s":"390 F 325","t":16.35,"v":0.035},{"s":"390 F 325","t":16.4,"v":0.03},{"s":"390 F 325","t":16.45,"v":0.028},{"s":"390 F 325","t":16.5,"v":0.025},{"s":"390 F 325","t":16.55,"v":0.02},{"s":"390 F 325","t":16.75,"v":0.092},{"s":"390 F 325","t":16.78,"v":0.07},{"s":"390 F 325","t":16.82,"v":0.06},{"s":"390 F 325","t":16.86,"v":0.05},{"s":"390 F 325","t":16.9,"v":0.04},{"s":"390 F 325","t":16.88,"v":0.03},
{"s":"390 F 485","t":7.62,"v":0.035},{"s":"390 F 485","t":7.7,"v":0.05},{"s":"390 F 485","t":7.76,"v":0.035},{"s":"390 F 485","t":7.82,"v":0.055},{"s":"390 F 485","t":7.78,"v":0.146},{"s":"390 F 485","t":7.86,"v":0.146},{"s":"390 F 485","t":7.95,"v":0.146},{"s":"390 F 485","t":7.9,"v":0.125},{"s":"390 F 485","t":7.99,"v":0.112},{"s":"390 F 485","t":8.03,"v":0.119},{"s":"390 F 485","t":8.07,"v":0.096},{"s":"390 F 485","t":8.11,"v":0.106},{"s":"390 F 485","t":8.15,"v":0.087},{"s":"390 F 485","t":8.19,"v":0.099},{"s":"390 F 485","t":8.23,"v":0.09},{"s":"390 F 485","t":8.28,"v":0.112},{"s":"390 F 485","t":8.32,"v":0.131},{"s":"390 F 485","t":8.36,"v":0.119},{"s":"390 F 485","t":8.4,"v":0.109},{"s":"390 F 485","t":8.44,"v":0.125},{"s":"390 F 485","t":8.48,"v":0.138},{"s":"390 F 485","t":8.52,"v":0.115},{"s":"390 F 485","t":8.56,"v":0.106},{"s":"390 F 485","t":8.61,"v":0.131},{"s":"390 F 485","t":8.65,"v":0.144},{"s":"390 F 485","t":8.69,"v":0.125},{"s":"390 F 485","t":8.73,"v":0.154},{"s":"390 F 485","t":8.77,"v":0.138},{"s":"390 F 485","t":8.81,"v":0.173},{"s":"390 F 485","t":8.85,"v":0.144},{"s":"390 F 485","t":8.89,"v":0.157},{"s":"390 F 485","t":8.93,"v":0.176},{"s":"390 F 485","t":8.98,"v":0.151},{"s":"390 F 485","t":9.02,"v":0.163},{"s":"390 F 485","t":9.06,"v":0.144},{"s":"390 F 485","t":9.1,"v":0.173},{"s":"390 F 485","t":9.14,"v":0.157},{"s":"390 F 485","t":9.18,"v":0.147},{"s":"390 F 485","t":9.22,"v":0.144},{"s":"390 F 485","t":9.26,"v":0.131},{"s":"390 F 485","t":9.31,"v":0.163},{"s":"390 F 485","t":9.35,"v":0.176},{"s":"390 F 485","t":9.39,"v":0.167},{"s":"390 F 485","t":9.43,"v":0.189},{"s":"390 F 485","t":9.47,"v":0.176},{"s":"390 F 485","t":9.51,"v":0.179},{"s":"390 F 485","t":9.55,"v":0.17},{"s":"390 F 485","t":9.59,"v":0.173},{"s":"390 F 485","t":9.64,"v":0.183},{"s":"390 F 485","t":9.68,"v":0.17},{"s":"390 F 485","t":9.72,"v":0.176},{"s":"390 F 485","t":9.76,"v":0.179},{"s":"390 F 485","t":9.8,"v":0.173},{"s":"390 F 485","t":9.84,"v":0.183},{"s":"390 F 485","t":9.88,"v":0.176},{"s":"390 F 485","t":9.92,"v":0.17},{"s":"390 F 485","t":9.97,"v":0.179},{"s":"390 F 485","t":10.01,"v":0.151},{"s":"390 F 485","t":10.09,"v":0.147},{"s":"390 F 485","t":10.17,"v":0.17},{"s":"390 F 485","t":10.25,"v":0.144},{"s":"390 F 485","t":8.48,"v":0.176},{"s":"390 F 485","t":8.81,"v":0.189},{"s":"390 F 485","t":8.98,"v":0.185},{"s":"390 F 485","t":9.1,"v":0.19},{"s":"390 F 485","t":9.63,"v":0.211},{"s":"390 F 485","t":9.84,"v":0.211},{"s":"390 F 485","t":9.45,"v":0.2},{"s":"390 F 485","t":9.92,"v":0.0},
{"s":"390 F 485","t":10.2,"v":0.165},{"s":"390 F 485","t":10.3,"v":0.172},{"s":"390 F 485","t":10.35,"v":0.168},{"s":"390 F 485","t":10.4,"v":0.175},{"s":"390 F 485","t":10.45,"v":0.163},{"s":"390 F 485","t":10.5,"v":0.17},{"s":"390 F 485","t":10.55,"v":0.178},{"s":"390 F 485","t":10.6,"v":0.168},{"s":"390 F 485","t":10.65,"v":0.174},{"s":"390 F 485","t":10.7,"v":0.18},{"s":"390 F 485","t":10.75,"v":0.17},{"s":"390 F 485","t":10.8,"v":0.176},{"s":"390 F 485","t":10.85,"v":0.182},{"s":"390 F 485","t":10.9,"v":0.175},{"s":"390 F 485","t":10.95,"v":0.19},{"s":"390 F 485","t":11.0,"v":0.185},{"s":"390 F 485","t":11.05,"v":0.195},{"s":"390 F 485","t":11.1,"v":0.183},{"s":"390 F 485","t":11.15,"v":0.19},{"s":"390 F 485","t":11.2,"v":0.18},{"s":"390 F 485","t":11.25,"v":0.187},{"s":"390 F 485","t":11.3,"v":0.178},{"s":"390 F 485","t":11.35,"v":0.185},{"s":"390 F 485","t":11.4,"v":0.18},{"s":"390 F 485","t":11.45,"v":0.188},{"s":"390 F 485","t":11.5,"v":0.176},{"s":"390 F 485","t":11.55,"v":0.184},{"s":"390 F 485","t":11.6,"v":0.19},{"s":"390 F 485","t":11.65,"v":0.183},{"s":"390 F 485","t":11.7,"v":0.18},{"s":"390 F 485","t":11.75,"v":0.186},{"s":"390 F 485","t":11.8,"v":0.178},{"s":"390 F 485","t":11.85,"v":0.2},{"s":"390 F 485","t":11.9,"v":0.21},{"s":"390 F 485","t":10.32,"v":0.205},{"s":"390 F 485","t":10.62,"v":0.21},{"s":"390 F 485","t":10.92,"v":0.2},{"s":"390 F 485","t":11.12,"v":0.21},{"s":"390 F 485","t":11.32,"v":0.205},{"s":"390 F 485","t":11.52,"v":0.215},{"s":"390 F 485","t":10.42,"v":0.145},{"s":"390 F 485","t":10.82,"v":0.15},
{"s":"390 F 485","t":12.0,"v":0.22},{"s":"390 F 485","t":12.03,"v":0.24},{"s":"390 F 485","t":12.05,"v":0.25},{"s":"390 F 485","t":12.08,"v":0.23},{"s":"390 F 485","t":12.1,"v":0.26},{"s":"390 F 485","t":12.12,"v":0.21},{"s":"390 F 485","t":12.15,"v":0.225},{"s":"390 F 485","t":12.18,"v":0.205},{"s":"390 F 485","t":12.2,"v":0.235},{"s":"390 F 485","t":12.22,"v":0.215},{"s":"390 F 485","t":12.25,"v":0.2},{"s":"390 F 485","t":12.28,"v":0.22},{"s":"390 F 485","t":12.3,"v":0.21},{"s":"390 F 485","t":12.35,"v":0.195},{"s":"390 F 485","t":12.38,"v":0.23},{"s":"390 F 485","t":12.4,"v":0.2},{"s":"390 F 485","t":12.11,"v":0.275},{"s":"390 F 485","t":12.42,"v":0.15},
{"s":"390 F 485","t":12.6,"v":0.195},{"s":"390 F 485","t":12.65,"v":0.185},{"s":"390 F 485","t":12.7,"v":0.2},{"s":"390 F 485","t":12.75,"v":0.178},{"s":"390 F 485","t":12.8,"v":0.19},{"s":"390 F 485","t":12.85,"v":0.183},{"s":"390 F 485","t":12.9,"v":0.205},{"s":"390 F 485","t":12.95,"v":0.175},{"s":"390 F 485","t":13.0,"v":0.17},{"s":"390 F 485","t":13.05,"v":0.18},{"s":"390 F 485","t":13.1,"v":0.172},{"s":"390 F 485","t":13.15,"v":0.19},{"s":"390 F 485","t":13.2,"v":0.175},{"s":"390 F 485","t":13.25,"v":0.18},{"s":"390 F 485","t":13.3,"v":0.17},{"s":"390 F 485","t":13.35,"v":0.185},{"s":"390 F 485","t":13.4,"v":0.175},{"s":"390 F 485","t":13.45,"v":0.18},{"s":"390 F 485","t":13.5,"v":0.165},{"s":"390 F 485","t":13.55,"v":0.178},{"s":"390 F 485","t":13.6,"v":0.19},{"s":"390 F 485","t":13.65,"v":0.175},{"s":"390 F 485","t":13.7,"v":0.172},{"s":"390 F 485","t":13.75,"v":0.18},{"s":"390 F 485","t":13.8,"v":0.17},{"s":"390 F 485","t":13.85,"v":0.175},{"s":"390 F 485","t":13.9,"v":0.165},{"s":"390 F 485","t":13.95,"v":0.168},{"s":"390 F 485","t":14.0,"v":0.16},{"s":"390 F 485","t":14.05,"v":0.165},{"s":"390 F 485","t":14.1,"v":0.158},{"s":"390 F 485","t":14.15,"v":0.162},{"s":"390 F 485","t":14.2,"v":0.155},{"s":"390 F 485","t":14.25,"v":0.16},{"s":"390 F 485","t":12.82,"v":0.22},{"s":"390 F 485","t":13.22,"v":0.215},{"s":"390 F 485","t":13.47,"v":0.274},{"s":"390 F 485","t":13.02,"v":0.215},{"s":"390 F 485","t":13.92,"v":0.205},{"s":"390 F 485","t":14.12,"v":0.135},{"s":"390 F 485","t":13.62,"v":0.14},
{"s":"390 F 485","t":14.3,"v":0.15},{"s":"390 F 485","t":14.35,"v":0.145},{"s":"390 F 485","t":14.4,"v":0.155},{"s":"390 F 485","t":14.45,"v":0.14},{"s":"390 F 485","t":14.5,"v":0.148},{"s":"390 F 485","t":14.55,"v":0.142},{"s":"390 F 485","t":14.6,"v":0.15},{"s":"390 F 485","t":14.65,"v":0.138},{"s":"390 F 485","t":14.7,"v":0.145},{"s":"390 F 485","t":14.75,"v":0.14},{"s":"390 F 485","t":14.8,"v":0.148},{"s":"390 F 485","t":14.85,"v":0.135},{"s":"390 F 485","t":14.9,"v":0.14},{"s":"390 F 485","t":14.95,"v":0.145},{"s":"390 F 485","t":15.0,"v":0.13},{"s":"390 F 485","t":15.05,"v":0.14},{"s":"390 F 485","t":15.1,"v":0.132},{"s":"390 F 485","t":15.15,"v":0.125},{"s":"390 F 485","t":15.2,"v":0.13},{"s":"390 F 485","t":15.25,"v":0.12},{"s":"390 F 485","t":15.3,"v":0.125},{"s":"390 F 485","t":14.52,"v":0.19},{"s":"390 F 485","t":14.72,"v":0.19},{"s":"390 F 485","t":14.92,"v":0.188},{"s":"390 F 485","t":15.12,"v":0.19},{"s":"390 F 485","t":15.32,"v":0.188},{"s":"390 F 485","t":14.42,"v":0.12},{"s":"390 F 485","t":14.62,"v":0.11},{"s":"390 F 485","t":15.42,"v":0.105},{"s":"390 F 485","t":15.62,"v":0.12},{"s":"390 F 485","t":14.35,"v":0.0},
{"s":"390 F 485","t":15.35,"v":0.115},{"s":"390 F 485","t":15.4,"v":0.11},{"s":"390 F 485","t":15.45,"v":0.1},{"s":"390 F 485","t":15.5,"v":0.105},{"s":"390 F 485","t":15.55,"v":0.095},{"s":"390 F 485","t":15.6,"v":0.1},{"s":"390 F 485","t":15.65,"v":0.09},{"s":"390 F 485","t":15.7,"v":0.085},{"s":"390 F 485","t":15.75,"v":0.08},{"s":"390 F 485","t":15.8,"v":0.07},{"s":"390 F 485","t":15.85,"v":0.075},{"s":"390 F 485","t":15.9,"v":0.06},{"s":"390 F 485","t":15.95,"v":0.065},{"s":"390 F 485","t":16.0,"v":0.05},{"s":"390 F 485","t":16.05,"v":0.055},{"s":"390 F 485","t":16.1,"v":0.04},{"s":"390 F 485","t":16.15,"v":0.045},{"s":"390 F 485","t":16.2,"v":0.03},{"s":"390 F 485","t":16.25,"v":0.035},{"s":"390 F 485","t":16.3,"v":0.025},{"s":"390 F 485","t":16.35,"v":0.02},{"s":"390 F 485","t":16.4,"v":0.015},{"s":"390 F 485","t":16.45,"v":0.01},{"s":"390 F 485","t":16.5,"v":0.008},{"s":"390 F 485","t":16.55,"v":0.005},{"s":"390 F 485","t":16.6,"v":0.005},{"s":"390 F 485","t":16.65,"v":0.003},{"s":"390 F 485","t":15.76,"v":0.09},{"s":"390 F 485","t":15.86,"v":0.045},{"s":"390 F 485","t":15.72,"v":0.06},{"s":"390 F 485","t":16.1,"v":0.126},{"s":"390 F 485","t":16.77,"v":0.226},{"s":"390 F 485","t":16.78,"v":0.158},{"s":"390 F 485","t":16.85,"v":0.05},{"s":"390 F 485","t":16.9,"v":0.03},
{"s":"390 F 650","t":7.76,"v":0.256},{"s":"390 F 650","t":7.78,"v":0.275},{"s":"390 F 650","t":7.82,"v":0.3},{"s":"390 F 650","t":7.86,"v":0.284},{"s":"390 F 650","t":7.9,"v":0.306},{"s":"390 F 650","t":7.95,"v":0.269},{"s":"390 F 650","t":7.99,"v":0.29},{"s":"390 F 650","t":8.03,"v":0.312},{"s":"390 F 650","t":8.07,"v":0.275},{"s":"390 F 650","t":8.11,"v":0.3},{"s":"390 F 650","t":8.15,"v":0.288},{"s":"390 F 650","t":8.19,"v":0.263},{"s":"390 F 650","t":8.23,"v":0.297},{"s":"390 F 650","t":8.28,"v":0.309},{"s":"390 F 650","t":8.32,"v":0.281},{"s":"390 F 650","t":8.36,"v":0.294},{"s":"390 F 650","t":8.4,"v":0.269},{"s":"390 F 650","t":8.44,"v":0.306},{"s":"390 F 650","t":8.48,"v":0.284},{"s":"390 F 650","t":8.52,"v":0.297},{"s":"390 F 650","t":8.56,"v":0.275},{"s":"390 F 650","t":8.61,"v":0.291},{"s":"390 F 650","t":8.65,"v":0.312},{"s":"390 F 650","t":8.69,"v":0.3},{"s":"390 F 650","t":8.73,"v":0.288},{"s":"390 F 650","t":8.77,"v":0.309},{"s":"390 F 650","t":8.81,"v":0.294},{"s":"390 F 650","t":8.85,"v":0.3},{"s":"390 F 650","t":8.89,"v":0.288},{"s":"390 F 650","t":8.93,"v":0.303},{"s":"390 F 650","t":8.98,"v":0.291},{"s":"390 F 650","t":9.02,"v":0.297},{"s":"390 F 650","t":9.06,"v":0.312},{"s":"390 F 650","t":9.1,"v":0.291},{"s":"390 F 650","t":9.14,"v":0.306},{"s":"390 F 650","t":9.18,"v":0.288},{"s":"390 F 650","t":9.43,"v":0.3},{"s":"390 F 650","t":9.47,"v":0.325},{"s":"390 F 650","t":9.51,"v":0.306},{"s":"390 F 650","t":9.55,"v":0.291},{"s":"390 F 650","t":9.59,"v":0.312},{"s":"390 F 650","t":9.64,"v":0.3},{"s":"390 F 650","t":9.68,"v":0.316},{"s":"390 F 650","t":9.72,"v":0.297},{"s":"390 F 650","t":9.76,"v":0.309},{"s":"390 F 650","t":9.8,"v":0.303},{"s":"390 F 650","t":9.84,"v":0.294},{"s":"390 F 650","t":9.88,"v":0.312},{"s":"390 F 650","t":9.92,"v":0.3},{"s":"390 F 650","t":9.97,"v":0.291},{"s":"390 F 650","t":10.01,"v":0.306},{"s":"390 F 650","t":10.05,"v":0.294},{"s":"390 F 650","t":10.09,"v":0.3},{"s":"390 F 650","t":10.25,"v":0.322},{"s":"390 F 650","t":10.3,"v":0.297},{"s":"390 F 650","t":10.34,"v":0.288},{"s":"390 F 650","t":10.38,"v":0.303},{"s":"390 F 650","t":10.42,"v":0.294},{"s":"390 F 650","t":10.46,"v":0.306},{"s":"390 F 650","t":10.5,"v":0.297},{"s":"390 F 650","t":10.54,"v":0.309},{"s":"390 F 650","t":10.58,"v":0.3},{"s":"390 F 650","t":10.62,"v":0.303},{"s":"390 F 650","t":10.67,"v":0.312},{"s":"390 F 650","t":10.71,"v":0.3},{"s":"390 F 650","t":10.75,"v":0.309},{"s":"390 F 650","t":10.79,"v":0.303},{"s":"390 F 650","t":10.83,"v":0.316},{"s":"390 F 650","t":10.87,"v":0.325},{"s":"390 F 650","t":10.91,"v":0.312},{"s":"390 F 650","t":10.95,"v":0.337},{"s":"390 F 650","t":11.0,"v":0.344},{"s":"390 F 650","t":11.04,"v":0.334},{"s":"390 F 650","t":11.08,"v":0.35},{"s":"390 F 650","t":11.12,"v":0.34},{"s":"390 F 650","t":11.16,"v":0.331},{"s":"390 F 650","t":11.2,"v":0.337},{"s":"390 F 650","t":11.24,"v":0.325},{"s":"390 F 650","t":11.28,"v":0.319},{"s":"390 F 650","t":11.33,"v":0.312},{"s":"390 F 650","t":11.37,"v":0.325},{"s":"390 F 650","t":11.41,"v":0.316},{"s":"390 F 650","t":11.45,"v":0.309},{"s":"390 F 650","t":11.49,"v":0.303},{"s":"390 F 650","t":11.53,"v":0.312},{"s":"390 F 650","t":11.57,"v":0.319},{"s":"390 F 650","t":11.61,"v":0.306},{"s":"390 F 650","t":11.66,"v":0.312},{"s":"390 F 650","t":11.7,"v":0.303},{"s":"390 F 650","t":11.74,"v":0.319},{"s":"390 F 650","t":11.78,"v":0.312},{"s":"390 F 650","t":11.82,"v":0.322},{"s":"390 F 650","t":11.86,"v":0.331},{"s":"390 F 650","t":11.9,"v":0.337},{"s":"390 F 650","t":11.94,"v":0.356},{"s":"390 F 650","t":11.99,"v":0.375},{"s":"390 F 650","t":12.0,"v":0.403},{"s":"390 F 650","t":12.03,"v":0.393},{"s":"390 F 650","t":12.07,"v":0.381},{"s":"390 F 650","t":12.11,"v":0.418},{"s":"390 F 650","t":12.15,"v":0.375},{"s":"390 F 650","t":12.17,"v":0.434},{"s":"390 F 650","t":12.2,"v":0.362},{"s":"390 F 650","t":12.23,"v":0.387},{"s":"390 F 650","t":12.27,"v":0.369},{"s":"390 F 650","t":12.31,"v":0.35},{"s":"390 F 650","t":12.36,"v":0.337},{"s":"390 F 650","t":12.4,"v":0.319},{"s":"390 F 650","t":12.6,"v":0.334},{"s":"390 F 650","t":12.64,"v":0.325},{"s":"390 F 650","t":12.69,"v":0.312},{"s":"390 F 650","t":12.73,"v":0.369},{"s":"390 F 650","t":12.77,"v":0.35},{"s":"390 F 650","t":12.81,"v":0.319},{"s":"390 F 650","t":12.85,"v":0.312},{"s":"390 F 650","t":12.89,"v":0.3},{"s":"390 F 650","t":12.93,"v":0.309},{"s":"390 F 650","t":12.97,"v":0.319},{"s":"390 F 650","t":13.02,"v":0.312},{"s":"390 F 650","t":13.06,"v":0.337},{"s":"390 F 650","t":13.1,"v":0.362},{"s":"390 F 650","t":13.14,"v":0.4},{"s":"390 F 650","t":13.16,"v":0.391},{"s":"390 F 650","t":13.21,"v":0.344},{"s":"390 F 650","t":13.26,"v":0.312},{"s":"390 F 650","t":13.3,"v":0.303},{"s":"390 F 650","t":13.35,"v":0.3},{"s":"390 F 650","t":13.39,"v":0.312},{"s":"390 F 650","t":13.47,"v":0.412},{"s":"390 F 650","t":13.51,"v":0.306},{"s":"390 F 650","t":13.55,"v":0.312},{"s":"390 F 650","t":13.59,"v":0.3},{"s":"390 F 650","t":13.63,"v":0.319},{"s":"390 F 650","t":13.68,"v":0.312},{"s":"390 F 650","t":13.72,"v":0.309},{"s":"390 F 650","t":13.76,"v":0.337},{"s":"390 F 650","t":13.8,"v":0.319},{"s":"390 F 650","t":13.84,"v":0.309},{"s":"390 F 650","t":13.88,"v":0.3},{"s":"390 F 650","t":13.92,"v":0.306},{"s":"390 F 650","t":13.96,"v":0.297},{"s":"390 F 650","t":14.0,"v":0.303},{"s":"390 F 650","t":14.05,"v":0.294},{"s":"390 F 650","t":14.09,"v":0.3},{"s":"390 F 650","t":14.13,"v":0.319},{"s":"390 F 650","t":14.17,"v":0.306},{"s":"390 F 650","t":14.21,"v":0.297},{"s":"390 F 650","t":14.25,"v":0.294},{"s":"390 F 650","t":14.29,"v":0.3},
{"s":"390 F 650","t":14.33,"v":0.298},{"s":"390 F 650","t":14.37,"v":0.292},{"s":"390 F 650","t":14.41,"v":0.305},{"s":"390 F 650","t":14.45,"v":0.296},{"s":"390 F 650","t":14.49,"v":0.289},{"s":"390 F 650","t":14.53,"v":0.3},{"s":"390 F 650","t":14.57,"v":0.294},{"s":"390 F 650","t":14.61,"v":0.302},{"s":"390 F 650","t":14.65,"v":0.288},{"s":"390 F 650","t":14.69,"v":0.297},{"s":"390 F 650","t":14.73,"v":0.291},{"s":"390 F 650","t":14.77,"v":0.3},{"s":"390 F 650","t":14.81,"v":0.295},{"s":"390 F 650","t":14.85,"v":0.303},{"s":"390 F 650","t":14.89,"v":0.267},{"s":"390 F 650","t":14.93,"v":0.306},{"s":"390 F 650","t":14.97,"v":0.31},{"s":"390 F 650","t":15.01,"v":0.298},{"s":"390 F 650","t":15.05,"v":0.303},{"s":"390 F 650","t":15.09,"v":0.295},{"s":"390 F 650","t":15.13,"v":0.3},{"s":"390 F 650","t":15.17,"v":0.29},{"s":"390 F 650","t":15.21,"v":0.298},{"s":"390 F 650","t":15.25,"v":0.293},{"s":"390 F 650","t":15.29,"v":0.287},{"s":"390 F 650","t":15.33,"v":0.296},{"s":"390 F 650","t":15.37,"v":0.29},{"s":"390 F 650","t":15.41,"v":0.283},{"s":"390 F 650","t":15.45,"v":0.298},{"s":"390 F 650","t":15.49,"v":0.289},{"s":"390 F 650","t":15.53,"v":0.294},{"s":"390 F 650","t":15.57,"v":0.286},{"s":"390 F 650","t":15.73,"v":0.304},{"s":"390 F 650","t":15.78,"v":0.291},{"s":"390 F 650","t":15.83,"v":0.275},{"s":"390 F 650","t":15.89,"v":0.296},{"s":"390 F 650","t":15.94,"v":0.307},{"s":"390 F 650","t":16.0,"v":0.285},{"s":"390 F 650","t":16.05,"v":0.269},{"s":"390 F 650","t":16.1,"v":0.302},{"s":"390 F 650","t":16.16,"v":0.226},{"s":"390 F 650","t":16.18,"v":0.285},{"s":"390 F 650","t":16.24,"v":0.275},{"s":"390 F 650","t":16.29,"v":0.296},{"s":"390 F 650","t":16.34,"v":0.264},{"s":"390 F 650","t":16.4,"v":0.285},{"s":"390 F 650","t":16.45,"v":0.345},{"s":"390 F 650","t":16.47,"v":0.242},{"s":"390 F 650","t":16.51,"v":0.318},{"s":"390 F 650","t":16.56,"v":0.205},{"s":"390 F 650","t":16.59,"v":0.285},{"s":"390 F 650","t":16.61,"v":0.328},{"s":"390 F 650","t":16.64,"v":0.21},{"s":"390 F 650","t":16.67,"v":0.307},{"s":"390 F 650","t":16.69,"v":0.205},{"s":"390 F 650","t":16.72,"v":0.221},{"s":"390 F 650","t":16.75,"v":0.447},{"s":"390 F 650","t":16.77,"v":0.442},{"s":"390 F 650","t":16.8,"v":0.42},{"s":"390 F 650","t":16.83,"v":0.404},{"s":"390 F 650","t":16.85,"v":0.393},{"s":"390 F 650","t":16.88,"v":0.355}
],
"bw":[
{"s":"SW down","t":6.0,"w":0},{"s":"SW down","t":6.25,"w":0},{"s":"SW down","t":6.5,"w":0},{"s":"SW down","t":6.75,"w":0},{"s":"SW down","t":7.0,"w":0},{"s":"SW down","t":7.25,"w":0},{"s":"SW down","t":7.5,"w":50},{"s":"SW down","t":7.75,"w":74},{"s":"SW down","t":8.0,"w":72},{"s":"SW down","t":8.25,"w":72},{"s":"SW down","t":8.5,"w":86},{"s":"SW down","t":8.75,"w":146},{"s":"SW down","t":9.0,"w":186},{"s":"SW down","t":9.25,"w":188},{"s":"SW down","t":9.5,"w":210},{"s":"SW down","t":9.75,"w":243},{"s":"SW down","t":10.0,"w":301},{"s":"SW down","t":10.25,"w":267},{"s":"SW down","t":10.5,"w":309},{"s":"SW down","t":10.75,"w":413},{"s":"SW down","t":11.0,"w":395},{"s":"SW down","t":11.25,"w":377},{"s":"SW down","t":11.5,"w":497},{"s":"SW down","t":11.75,"w":457},{"s":"SW down","t":12.0,"w":665},{"s":"SW down","t":12.25,"w":395},{"s":"SW down","t":12.5,"w":405},{"s":"SW down","t":12.75,"w":352},{"s":"SW down","t":13.0,"w":332},{"s":"SW down","t":13.25,"w":317},{"s":"SW down","t":13.5,"w":372},{"s":"SW down","t":13.75,"w":298},{"s":"SW down","t":14.0,"w":280},{"s":"SW down","t":14.25,"w":226},{"s":"SW down","t":14.5,"w":229},{"s":"SW down","t":14.75,"w":222},{"s":"SW down","t":15.0,"w":166},{"s":"SW down","t":15.25,"w":163},{"s":"SW down","t":15.5,"w":108},{"s":"SW down","t":15.75,"w":80},{"s":"SW down","t":16.0,"w":75},{"s":"SW down","t":16.25,"w":62},{"s":"SW down","t":16.5,"w":34},{"s":"SW down","t":16.75,"w":0},{"s":"SW down","t":17.0,"w":0},{"s":"SW down","t":17.25,"w":0},{"s":"SW down","t":17.5,"w":0},{"s":"SW down","t":17.75,"w":0},{"s":"SW down","t":18.0,"w":0}
],
"c":[
{"s":"390 S 325","t":7.0,"v":0.008},{"s":"390 S 325","t":7.05,"v":0.015},{"s":"390 S 325","t":7.1,"v":0.005},{"s":"390 S 325","t":7.2,"v":0.01},{"s":"390 S 325","t":7.25,"v":0.02},{"s":"390 S 325","t":7.3,"v":0.012},{"s":"390 S 325","t":7.35,"v":0.025},{"s":"390 S 325","t":7.4,"v":0.028},{"s":"390 S 325","t":7.45,"v":0.015},{"s":"390 S 325","t":7.5,"v":0.01},{"s":"390 S 325","t":7.55,"v":0.02},{"s":"390 S 325","t":7.6,"v":0.012},{"s":"390 S 325","t":8.1,"v":0.02},{"s":"390 S 325","t":8.15,"v":0.012},{"s":"390 S 325","t":8.2,"v":0.008},{"s":"390 S 325","t":8.25,"v":0.015},{"s":"390 S 325","t":8.3,"v":0.01},{"s":"390 S 325","t":8.35,"v":0.006},{"s":"390 S 325","t":8.4,"v":0.012},{"s":"390 S 325","t":8.45,"v":0.008},{"s":"390 S 325","t":8.5,"v":0.01},{"s":"390 S 325","t":8.55,"v":0.006},{"s":"390 S 325","t":8.6,"v":0.009},{"s":"390 S 325","t":9.4,"v":0.006},{"s":"390 S 325","t":9.48,"v":0.004},{"s":"390 S 325","t":9.56,"v":0.008},{"s":"390 S 325","t":9.64,"v":0.005},{"s":"390 S 325","t":9.72,"v":0.009},{"s":"390 S 325","t":9.8,"v":0.006},{"s":"390 S 325","t":9.88,"v":0.004},{"s":"390 S 325","t":9.96,"v":0.007},{"s":"390 S 325","t":10.04,"v":0.005},{"s":"390 S 325","t":10.12,"v":0.008},{"s":"390 S 325","t":10.2,"v":0.004},{"s":"390 S 325","t":10.28,"v":0.006},{"s":"390 S 325","t":10.36,"v":0.009},{"s":"390 S 325","t":10.44,"v":0.005},{"s":"390 S 325","t":10.52,"v":0.007},{"s":"390 S 325","t":10.6,"v":0.004},{"s":"390 S 325","t":10.68,"v":0.006},{"s":"390 S 325","t":10.76,"v":0.008},{"s":"390 S 325","t":10.84,"v":0.005},{"s":"390 S 325","t":10.92,"v":0.007},{"s":"390 S 325","t":11.0,"v":0.004},{"s":"390 S 325","t":11.08,"v":0.006},{"s":"390 S 325","t":11.16,"v":0.008},{"s":"390 S 325","t":11.24,"v":0.005},{"s":"390 S 325","t":11.32,"v":0.007},{"s":"390 S 325","t":11.4,"v":0.004},{"s":"390 S 325","t":11.48,"v":0.006},{"s":"390 S 325","t":11.56,"v":0.009},{"s":"390 S 325","t":11.64,"v":0.005},{"s":"390 S 325","t":11.72,"v":0.007},{"s":"390 S 325","t":11.8,"v":0.004},{"s":"390 S 325","t":11.88,"v":0.006},{"s":"390 S 325","t":11.96,"v":0.008},{"s":"390 S 325","t":12.04,"v":0.005},{"s":"390 S 325","t":12.12,"v":0.007},{"s":"390 S 325","t":12.2,"v":0.004},{"s":"390 S 325","t":12.28,"v":0.006},{"s":"390 S 325","t":12.36,"v":0.008},{"s":"390 S 325","t":12.44,"v":0.005},{"s":"390 S 325","t":12.52,"v":0.007},{"s":"390 S 325","t":12.6,"v":0.004},{"s":"390 S 325","t":12.68,"v":0.006},{"s":"390 S 325","t":12.76,"v":0.009},{"s":"390 S 325","t":12.84,"v":0.005},{"s":"390 S 325","t":12.92,"v":0.007},{"s":"390 S 325","t":13.0,"v":0.004},{"s":"390 S 325","t":13.08,"v":0.006},{"s":"390 S 325","t":13.16,"v":0.008},{"s":"390 S 325","t":13.24,"v":0.005},{"s":"390 S 325","t":13.32,"v":0.007},{"s":"390 S 325","t":13.4,"v":0.004},{"s":"390 S 325","t":13.48,"v":0.006},{"s":"390 S 325","t":13.56,"v":0.012},{"s":"390 S 325","t":13.64,"v":0.008},{"s":"390 S 325","t":14.0,"v":0.006},{"s":"390 S 325","t":14.08,"v":0.005},{"s":"390 S 325","t":14.16,"v":0.008},{"s":"390 S 325","t":14.24,"v":0.004},{"s":"390 S 325","t":14.32,"v":0.007},{"s":"390 S 325","t":14.4,"v":0.005},{"s":"390 S 325","t":14.48,"v":0.009},{"s":"390 S 325","t":14.56,"v":0.006},{"s":"390 S 325","t":14.64,"v":0.004},{"s":"390 S 325","t":14.72,"v":0.008},{"s":"390 S 325","t":14.8,"v":0.006},{"s":"390 S 325","t":14.86,"v":0.012},{"s":"390 S 325","t":14.9,"v":0.02},{"s":"390 S 325","t":14.94,"v":0.028},{"s":"390 S 325","t":14.98,"v":0.015},{"s":"390 S 325","t":15.02,"v":0.02},{"s":"390 S 325","t":15.06,"v":0.01},{"s":"390 S 325","t":15.1,"v":0.014},{"s":"390 S 325","t":15.14,"v":0.008},{"s":"390 S 325","t":15.18,"v":0.006},{"s":"390 S 325","t":15.22,"v":0.009},
{"s":"390 S 485","t":7.01,"v":0.034},{"s":"390 S 485","t":7.03,"v":0.059},{"s":"390 S 485","t":7.04,"v":0.125},{"s":"390 S 485","t":7.09,"v":0.066},{"s":"390 S 485","t":7.13,"v":0.091},{"s":"390 S 485","t":7.19,"v":0.078},{"s":"390 S 485","t":7.25,"v":0.097},{"s":"390 S 485","t":7.29,"v":0.084},{"s":"390 S 485","t":7.33,"v":0.1},{"s":"390 S 485","t":7.37,"v":0.078},{"s":"390 S 485","t":7.41,"v":0.109},{"s":"390 S 485","t":7.45,"v":0.066},{"s":"390 S 485","t":7.49,"v":0.097},{"s":"390 S 485","t":7.53,"v":0.084},{"s":"390 S 485","t":7.57,"v":0.103},{"s":"390 S 485","t":7.61,"v":0.091},{"s":"390 S 485","t":7.65,"v":0.113},{"s":"390 S 485","t":7.69,"v":0.097},{"s":"390 S 485","t":7.73,"v":0.078},
{"s":"390 S 485","t":8.13,"v":0.134},{"s":"390 S 485","t":8.17,"v":0.116},{"s":"390 S 485","t":8.21,"v":0.128},{"s":"390 S 485","t":8.25,"v":0.119},{"s":"390 S 485","t":8.29,"v":0.122},{"s":"390 S 485","t":8.32,"v":0.141},{"s":"390 S 485","t":8.36,"v":0.116},{"s":"390 S 485","t":8.4,"v":0.131},{"s":"390 S 485","t":8.44,"v":0.144},{"s":"390 S 485","t":8.48,"v":0.191},{"s":"390 S 485","t":8.52,"v":0.203},{"s":"390 S 485","t":8.55,"v":0.197},{"s":"390 S 485","t":8.58,"v":0.206},{"s":"390 S 485","t":8.6,"v":0.197},{"s":"390 S 485","t":8.63,"v":0.159},{"s":"390 S 485","t":8.64,"v":0.144},{"s":"390 S 485","t":8.66,"v":0.116},{"s":"390 S 485","t":8.68,"v":0.119},{"s":"390 S 485","t":8.72,"v":0.122},{"s":"390 S 485","t":8.74,"v":0.113},
{"s":"390 S 485","t":9.4,"v":0.116},{"s":"390 S 485","t":9.42,"v":0.1},{"s":"390 S 485","t":9.44,"v":0.106},{"s":"390 S 485","t":9.48,"v":0.125},{"s":"390 S 485","t":9.52,"v":0.122},{"s":"390 S 485","t":9.56,"v":0.134},{"s":"390 S 485","t":9.6,"v":0.141},{"s":"390 S 485","t":9.64,"v":0.15},{"s":"390 S 485","t":9.68,"v":0.134},{"s":"390 S 485","t":9.72,"v":0.141},{"s":"390 S 485","t":9.74,"v":0.197},{"s":"390 S 485","t":9.76,"v":0.181},{"s":"390 S 485","t":9.8,"v":0.15},{"s":"390 S 485","t":9.84,"v":0.163},{"s":"390 S 485","t":9.88,"v":0.128},
{"s":"390 S 485","t":9.95,"v":0.13},{"s":"390 S 485","t":10.0,"v":0.125},{"s":"390 S 485","t":10.05,"v":0.12},{"s":"390 S 485","t":10.1,"v":0.118},{"s":"390 S 485","t":10.15,"v":0.122},{"s":"390 S 485","t":10.2,"v":0.115},{"s":"390 S 485","t":10.25,"v":0.12},{"s":"390 S 485","t":10.3,"v":0.113},{"s":"390 S 485","t":10.35,"v":0.117},{"s":"390 S 485","t":10.4,"v":0.11},{"s":"390 S 485","t":10.45,"v":0.115},{"s":"390 S 485","t":10.5,"v":0.118},{"s":"390 S 485","t":10.55,"v":0.112},{"s":"390 S 485","t":10.6,"v":0.116},{"s":"390 S 485","t":10.65,"v":0.109},{"s":"390 S 485","t":10.7,"v":0.114},{"s":"390 S 485","t":10.75,"v":0.118},{"s":"390 S 485","t":10.8,"v":0.111},{"s":"390 S 485","t":10.85,"v":0.116},{"s":"390 S 485","t":10.9,"v":0.12},{"s":"390 S 485","t":10.95,"v":0.113},{"s":"390 S 485","t":11.0,"v":0.117},{"s":"390 S 485","t":11.05,"v":0.11},{"s":"390 S 485","t":11.1,"v":0.115},{"s":"390 S 485","t":11.15,"v":0.12},{"s":"390 S 485","t":11.2,"v":0.113},{"s":"390 S 485","t":11.25,"v":0.118},{"s":"390 S 485","t":11.3,"v":0.112},{"s":"390 S 485","t":11.35,"v":0.116},{"s":"390 S 485","t":11.4,"v":0.121},{"s":"390 S 485","t":11.45,"v":0.114},{"s":"390 S 485","t":11.5,"v":0.119},{"s":"390 S 485","t":11.55,"v":0.115},{"s":"390 S 485","t":11.6,"v":0.122},{"s":"390 S 485","t":11.65,"v":0.117},{"s":"390 S 485","t":11.7,"v":0.112},{"s":"390 S 485","t":11.75,"v":0.12},{"s":"390 S 485","t":11.8,"v":0.125},{"s":"390 S 485","t":11.85,"v":0.118},{"s":"390 S 485","t":11.9,"v":0.123},{"s":"390 S 485","t":11.95,"v":0.117},{"s":"390 S 485","t":12.0,"v":0.13},{"s":"390 S 485","t":12.05,"v":0.125},{"s":"390 S 485","t":12.1,"v":0.12},{"s":"390 S 485","t":12.15,"v":0.127},{"s":"390 S 485","t":12.2,"v":0.119},{"s":"390 S 485","t":12.25,"v":0.115},{"s":"390 S 485","t":12.3,"v":0.12},{"s":"390 S 485","t":12.35,"v":0.112},{"s":"390 S 485","t":12.4,"v":0.118},{"s":"390 S 485","t":12.45,"v":0.11},{"s":"390 S 485","t":12.5,"v":0.116},{"s":"390 S 485","t":12.55,"v":0.113},{"s":"390 S 485","t":12.6,"v":0.119},{"s":"390 S 485","t":12.65,"v":0.125},{"s":"390 S 485","t":12.7,"v":0.13},{"s":"390 S 485","t":12.75,"v":0.135},{"s":"390 S 485","t":12.8,"v":0.128},{"s":"390 S 485","t":12.85,"v":0.132},{"s":"390 S 485","t":12.9,"v":0.138},{"s":"390 S 485","t":12.95,"v":0.13},{"s":"390 S 485","t":13.0,"v":0.135},{"s":"390 S 485","t":13.05,"v":0.14},{"s":"390 S 485","t":13.1,"v":0.132},{"s":"390 S 485","t":13.15,"v":0.137},{"s":"390 S 485","t":13.2,"v":0.143},{"s":"390 S 485","t":13.25,"v":0.135},{"s":"390 S 485","t":13.3,"v":0.14},{"s":"390 S 485","t":13.35,"v":0.145},{"s":"390 S 485","t":13.4,"v":0.138},{"s":"390 S 485","t":13.45,"v":0.13},{"s":"390 S 485","t":13.5,"v":0.123},{"s":"390 S 485","t":13.55,"v":0.118},{"s":"390 S 485","t":13.6,"v":0.115},{"s":"390 S 485","t":13.65,"v":0.12},{"s":"390 S 485","t":14.05,"v":0.113},{"s":"390 S 485","t":14.1,"v":0.118},{"s":"390 S 485","t":14.15,"v":0.11},{"s":"390 S 485","t":14.2,"v":0.115},{"s":"390 S 485","t":14.25,"v":0.12},{"s":"390 S 485","t":14.3,"v":0.112},{"s":"390 S 485","t":14.35,"v":0.117},{"s":"390 S 485","t":14.4,"v":0.122},{"s":"390 S 485","t":14.45,"v":0.115},{"s":"390 S 485","t":14.5,"v":0.11},{"s":"390 S 485","t":14.55,"v":0.118},{"s":"390 S 485","t":14.6,"v":0.113},{"s":"390 S 485","t":14.65,"v":0.12},{"s":"390 S 485","t":14.7,"v":0.125},{"s":"390 S 485","t":14.75,"v":0.116},{"s":"390 S 485","t":14.8,"v":0.112},{"s":"390 S 485","t":14.85,"v":0.118},{"s":"390 S 485","t":14.9,"v":0.123},{"s":"390 S 485","t":14.95,"v":0.115},{"s":"390 S 485","t":15.0,"v":0.12},{"s":"390 S 485","t":15.05,"v":0.117},{"s":"390 S 485","t":15.1,"v":0.124},{"s":"390 S 485","t":15.15,"v":0.118},{"s":"390 S 485","t":15.2,"v":0.121},{"s":"390 S 485","t":15.22,"v":0.115},
{"s":"390 S 485","t":10.38,"v":0.156},{"s":"390 S 485","t":11.14,"v":0.134},{"s":"390 S 485","t":11.82,"v":0.135},{"s":"390 S 485","t":12.23,"v":0.15},{"s":"390 S 485","t":12.42,"v":0.14},{"s":"390 S 485","t":12.72,"v":0.145},{"s":"390 S 485","t":13.32,"v":0.155},{"s":"390 S 485","t":13.64,"v":0.192},{"s":"390 S 485","t":13.4,"v":0.0925},{"s":"390 S 485","t":14.18,"v":0.148},{"s":"390 S 485","t":14.58,"v":0.148},{"s":"390 S 485","t":14.36,"v":0.0875},{"s":"390 S 485","t":15.0,"v":0.151},{"s":"390 S 485","t":15.1,"v":0.145},{"s":"390 S 485","t":10.62,"v":0.1},{"s":"390 S 485","t":10.92,"v":0.102},{"s":"390 S 485","t":11.52,"v":0.103},{"s":"390 S 485","t":10.02,"v":0.14},{"s":"390 S 485","t":12.98,"v":0.15},
{"s":"390 S 650","t":7.01,"v":0.431},{"s":"390 S 650","t":7.04,"v":0.428},{"s":"390 S 650","t":7.05,"v":0.384},{"s":"390 S 650","t":7.07,"v":0.366},{"s":"390 S 650","t":7.04,"v":0.325},{"s":"390 S 650","t":7.29,"v":0.444},{"s":"390 S 650","t":7.25,"v":0.303},{"s":"390 S 650","t":7.33,"v":0.328},{"s":"390 S 650","t":7.37,"v":0.381},{"s":"390 S 650","t":7.35,"v":0.347},{"s":"390 S 650","t":7.41,"v":0.359},{"s":"390 S 650","t":7.45,"v":0.388},{"s":"390 S 650","t":7.47,"v":0.3625},{"s":"390 S 650","t":7.49,"v":0.372},{"s":"390 S 650","t":7.51,"v":0.306},{"s":"390 S 650","t":7.53,"v":0.341},{"s":"390 S 650","t":7.57,"v":0.322},{"s":"390 S 650","t":7.59,"v":0.366},{"s":"390 S 650","t":7.61,"v":0.353},{"s":"390 S 650","t":7.63,"v":0.4},{"s":"390 S 650","t":7.65,"v":0.372},{"s":"390 S 650","t":7.69,"v":0.35},{"s":"390 S 650","t":7.71,"v":0.359},{"s":"390 S 650","t":7.73,"v":0.3375},{"s":"390 S 650","t":7.77,"v":0.35},{"s":"390 S 650","t":7.31,"v":0.34},{"s":"390 S 650","t":7.43,"v":0.35},{"s":"390 S 650","t":7.54,"v":0.353},
{"s":"390 S 650","t":8.13,"v":0.459},{"s":"390 S 650","t":8.14,"v":0.444},{"s":"390 S 650","t":8.13,"v":0.3625},{"s":"390 S 650","t":8.17,"v":0.416},{"s":"390 S 650","t":8.21,"v":0.409},{"s":"390 S 650","t":8.25,"v":0.403},{"s":"390 S 650","t":8.26,"v":0.3625},{"s":"390 S 650","t":8.29,"v":0.419},{"s":"390 S 650","t":8.31,"v":0.397},{"s":"390 S 650","t":8.32,"v":0.4125},{"s":"390 S 650","t":8.35,"v":0.4},{"s":"390 S 650","t":8.36,"v":0.422},{"s":"390 S 650","t":8.39,"v":0.409},{"s":"390 S 650","t":8.4,"v":0.381},{"s":"390 S 650","t":8.43,"v":0.403},{"s":"390 S 650","t":8.44,"v":0.416},{"s":"390 S 650","t":8.47,"v":0.39},{"s":"390 S 650","t":8.48,"v":0.434},{"s":"390 S 650","t":8.5,"v":0.519},{"s":"390 S 650","t":8.52,"v":0.494},{"s":"390 S 650","t":8.55,"v":0.503},{"s":"390 S 650","t":8.56,"v":0.516},{"s":"390 S 650","t":8.58,"v":0.4875},{"s":"390 S 650","t":8.6,"v":0.5},{"s":"390 S 650","t":8.63,"v":0.631},{"s":"390 S 650","t":8.66,"v":0.478},{"s":"390 S 650","t":8.68,"v":0.4625},{"s":"390 S 650","t":8.7,"v":0.416},{"s":"390 S 650","t":8.72,"v":0.397},{"s":"390 S 650","t":8.74,"v":0.372},{"s":"390 S 650","t":8.64,"v":0.378},
{"s":"390 S 650","t":9.4,"v":0.416},{"s":"390 S 650","t":9.42,"v":0.372},{"s":"390 S 650","t":9.44,"v":0.35},{"s":"390 S 650","t":9.46,"v":0.3375},{"s":"390 S 650","t":9.48,"v":0.384},{"s":"390 S 650","t":9.5,"v":0.403},{"s":"390 S 650","t":9.52,"v":0.428},{"s":"390 S 650","t":9.56,"v":0.422},{"s":"390 S 650","t":9.58,"v":0.378},{"s":"390 S 650","t":9.6,"v":0.394},{"s":"390 S 650","t":9.64,"v":0.431},{"s":"390 S 650","t":9.66,"v":0.447},{"s":"390 S 650","t":9.68,"v":0.466},{"s":"390 S 650","t":9.7,"v":0.453},{"s":"390 S 650","t":9.72,"v":0.472},{"s":"390 S 650","t":9.74,"v":0.4625},{"s":"390 S 650","t":9.76,"v":0.469},{"s":"390 S 650","t":9.78,"v":0.44},{"s":"390 S 650","t":9.8,"v":0.456},{"s":"390 S 650","t":9.84,"v":0.434},{"s":"390 S 650","t":9.86,"v":0.472},{"s":"390 S 650","t":9.88,"v":0.447},{"s":"390 S 650","t":9.77,"v":0.34},
{"s":"390 S 650","t":9.92,"v":0.403},{"s":"390 S 650","t":9.96,"v":0.39},{"s":"390 S 650","t":10.0,"v":0.4},{"s":"390 S 650","t":10.04,"v":0.384},{"s":"390 S 650","t":10.08,"v":0.366},{"s":"390 S 650","t":10.12,"v":0.375},{"s":"390 S 650","t":10.16,"v":0.3625},{"s":"390 S 650","t":10.2,"v":0.353},{"s":"390 S 650","t":10.24,"v":0.372},{"s":"390 S 650","t":10.28,"v":0.347},{"s":"390 S 650","t":10.32,"v":0.334},{"s":"390 S 650","t":10.36,"v":0.341},{"s":"390 S 650","t":10.39,"v":0.331},{"s":"390 S 650","t":10.43,"v":0.35},{"s":"390 S 650","t":10.47,"v":0.341},{"s":"390 S 650","t":10.51,"v":0.394},{"s":"390 S 650","t":10.55,"v":0.359},{"s":"390 S 650","t":10.59,"v":0.39},{"s":"390 S 650","t":10.63,"v":0.322},{"s":"390 S 650","t":10.67,"v":0.344},{"s":"390 S 650","t":10.71,"v":0.369},{"s":"390 S 650","t":10.75,"v":0.356},{"s":"390 S 650","t":10.79,"v":0.3375},{"s":"390 S 650","t":10.83,"v":0.366},{"s":"390 S 650","t":10.87,"v":0.347},{"s":"390 S 650","t":10.91,"v":0.334},{"s":"390 S 650","t":10.95,"v":0.353},{"s":"390 S 650","t":10.99,"v":0.378},{"s":"390 S 650","t":11.03,"v":0.341},{"s":"390 S 650","t":11.07,"v":0.359},{"s":"390 S 650","t":11.11,"v":0.334},{"s":"390 S 650","t":11.14,"v":0.425},{"s":"390 S 650","t":11.15,"v":0.35},{"s":"390 S 650","t":11.19,"v":0.366},{"s":"390 S 650","t":11.23,"v":0.341},{"s":"390 S 650","t":11.27,"v":0.359},{"s":"390 S 650","t":11.31,"v":0.369},{"s":"390 S 650","t":11.35,"v":0.347},{"s":"390 S 650","t":11.39,"v":0.375},{"s":"390 S 650","t":11.43,"v":0.359},{"s":"390 S 650","t":11.47,"v":0.372},{"s":"390 S 650","t":11.51,"v":0.353},{"s":"390 S 650","t":11.55,"v":0.366},{"s":"390 S 650","t":11.59,"v":0.378},{"s":"390 S 650","t":11.63,"v":0.369},{"s":"390 S 650","t":11.67,"v":0.384},{"s":"390 S 650","t":11.71,"v":0.359},{"s":"390 S 650","t":11.75,"v":0.366},{"s":"390 S 650","t":11.79,"v":0.341},{"s":"390 S 650","t":11.83,"v":0.334},{"s":"390 S 650","t":11.87,"v":0.353},
{"s":"390 S 650","t":11.8,"v":0.431},{"s":"390 S 650","t":11.84,"v":0.422},{"s":"390 S 650","t":11.88,"v":0.447},{"s":"390 S 650","t":11.91,"v":0.403},{"s":"390 S 650","t":11.95,"v":0.44},{"s":"390 S 650","t":11.99,"v":0.416},{"s":"390 S 650","t":12.03,"v":0.447},{"s":"390 S 650","t":12.07,"v":0.397},{"s":"390 S 650","t":12.11,"v":0.428},{"s":"390 S 650","t":12.15,"v":0.347},{"s":"390 S 650","t":12.19,"v":0.484},{"s":"390 S 650","t":12.23,"v":0.497},{"s":"390 S 650","t":12.24,"v":0.697},{"s":"390 S 650","t":12.29,"v":0.659},{"s":"390 S 650","t":12.31,"v":0.44},{"s":"390 S 650","t":12.35,"v":0.453},{"s":"390 S 650","t":12.39,"v":0.428},{"s":"390 S 650","t":12.43,"v":0.388},{"s":"390 S 650","t":12.46,"v":0.378},{"s":"390 S 650","t":12.5,"v":0.4},{"s":"390 S 650","t":12.54,"v":0.366},{"s":"390 S 650","t":12.58,"v":0.39},{"s":"390 S 650","t":12.62,"v":0.416},{"s":"390 S 650","t":12.66,"v":0.44},{"s":"390 S 650","t":12.7,"v":0.506},{"s":"390 S 650","t":12.73,"v":0.478},{"s":"390 S 650","t":12.77,"v":0.672},{"s":"390 S 650","t":12.78,"v":0.447},{"s":"390 S 650","t":12.82,"v":0.422},{"s":"390 S 650","t":12.86,"v":0.366},{"s":"390 S 650","t":12.9,"v":0.44},{"s":"390 S 650","t":12.94,"v":0.6625},{"s":"390 S 650","t":12.97,"v":0.459},{"s":"390 S 650","t":12.98,"v":0.497},{"s":"390 S 650","t":13.01,"v":0.416},{"s":"390 S 650","t":13.02,"v":0.394},
{"s":"390 S 650","t":13.06,"v":0.5875},{"s":"390 S 650","t":13.09,"v":0.578},{"s":"390 S 650","t":13.1,"v":0.5625},{"s":"390 S 650","t":13.14,"v":0.572},{"s":"390 S 650","t":13.17,"v":0.534},{"s":"390 S 650","t":13.18,"v":0.559},{"s":"390 S 650","t":13.22,"v":0.553},{"s":"390 S 650","t":13.25,"v":0.572},{"s":"390 S 650","t":13.26,"v":0.547},{"s":"390 S 650","t":13.3,"v":0.559},{"s":"390 S 650","t":13.32,"v":0.553},{"s":"390 S 650","t":13.34,"v":0.541},{"s":"390 S 650","t":13.38,"v":0.556},{"s":"390 S 650","t":13.4,"v":0.347},{"s":"390 S 650","t":13.44,"v":0.606},{"s":"390 S 650","t":13.46,"v":0.5375},{"s":"390 S 650","t":13.22,"v":0.478},{"s":"390 S 650","t":13.26,"v":0.481},{"s":"390 S 650","t":13.3,"v":0.469},{"s":"390 S 650","t":13.34,"v":0.484},{"s":"390 S 650","t":13.38,"v":0.475},{"s":"390 S 650","t":13.42,"v":0.472},{"s":"390 S 650","t":13.5,"v":0.4875},{"s":"390 S 650","t":13.54,"v":0.4625},{"s":"390 S 650","t":13.58,"v":0.44},{"s":"390 S 650","t":13.62,"v":0.453},{"s":"390 S 650","t":13.64,"v":0.594},{"s":"390 S 650","t":13.66,"v":0.428},{"s":"390 S 650","t":13.68,"v":0.416},{"s":"390 S 650","t":13.7,"v":0.39},{"s":"390 S 650","t":13.72,"v":0.378},{"s":"390 S 650","t":13.74,"v":0.447},
{"s":"390 S 650","t":14.06,"v":0.472},{"s":"390 S 650","t":14.1,"v":0.447},{"s":"390 S 650","t":14.1,"v":0.409},{"s":"390 S 650","t":14.14,"v":0.428},{"s":"390 S 650","t":14.18,"v":0.4},{"s":"390 S 650","t":14.22,"v":0.416},{"s":"390 S 650","t":14.26,"v":0.39},{"s":"390 S 650","t":14.3,"v":0.397},{"s":"390 S 650","t":14.34,"v":0.4625},{"s":"390 S 650","t":14.36,"v":0.378},{"s":"390 S 650","t":14.38,"v":0.416},{"s":"390 S 650","t":14.42,"v":0.39},{"s":"390 S 650","t":14.46,"v":0.366},{"s":"390 S 650","t":14.5,"v":0.381},{"s":"390 S 650","t":14.54,"v":0.422},{"s":"390 S 650","t":14.58,"v":0.403},{"s":"390 S 650","t":14.6,"v":0.447},{"s":"390 S 650","t":14.61,"v":0.431},{"s":"390 S 650","t":14.65,"v":0.409},{"s":"390 S 650","t":14.69,"v":0.388},{"s":"390 S 650","t":14.73,"v":0.4},{"s":"390 S 650","t":14.77,"v":0.372},{"s":"390 S 650","t":14.79,"v":0.35},{"s":"390 S 650","t":14.81,"v":0.394},{"s":"390 S 650","t":14.84,"v":0.453},{"s":"390 S 650","t":14.85,"v":0.428},{"s":"390 S 650","t":14.89,"v":0.384},{"s":"390 S 650","t":14.93,"v":0.4},{"s":"390 S 650","t":14.97,"v":0.409},{"s":"390 S 650","t":15.01,"v":0.475},{"s":"390 S 650","t":15.05,"v":0.403},{"s":"390 S 650","t":15.09,"v":0.378},{"s":"390 S 650","t":15.13,"v":0.434},{"s":"390 S 650","t":15.16,"v":0.394},{"s":"390 S 650","t":15.19,"v":0.416},{"s":"390 S 650","t":15.21,"v":0.4},{"s":"390 S 650","t":15.24,"v":0.372}
],
"cw":[
{"s":"SW down","t":6.0,"w":0},{"s":"SW down","t":6.25,"w":0},{"s":"SW down","t":6.5,"w":0},{"s":"SW down","t":6.75,"w":0},{"s":"SW down","t":7.0,"w":0},{"s":"SW down","t":7.25,"w":49},{"s":"SW down","t":7.5,"w":70},{"s":"SW down","t":7.75,"w":87},{"s":"SW down","t":8.0,"w":113},{"s":"SW down","t":8.25,"w":138},{"s":"SW down","t":8.5,"w":359},{"s":"SW down","t":8.75,"w":183},{"s":"SW down","t":9.0,"w":183},{"s":"SW down","t":9.25,"w":221},{"s":"SW down","t":9.5,"w":296},{"s":"SW down","t":9.75,"w":230},{"s":"SW down","t":10.0,"w":265},{"s":"SW down","t":10.25,"w":194},{"s":"SW down","t":10.5,"w":194},{"s":"SW down","t":10.75,"w":194},{"s":"SW down","t":11.0,"w":232},{"s":"SW down","t":11.25,"w":267},{"s":"SW down","t":11.5,"w":210},{"s":"SW down","t":11.75,"w":290},{"s":"SW down","t":12.0,"w":386},{"s":"SW down","t":12.25,"w":362},{"s":"SW down","t":12.5,"w":351},{"s":"SW down","t":12.75,"w":250},{"s":"SW down","t":13.0,"w":183},{"s":"SW down","t":13.25,"w":196},{"s":"SW down","t":13.5,"w":208},{"s":"SW down","t":13.75,"w":171},{"s":"SW down","t":14.0,"w":190},{"s":"SW down","t":14.25,"w":156},{"s":"SW down","t":14.5,"w":146},{"s":"SW down","t":14.75,"w":116},{"s":"SW down","t":15.0,"w":140},{"s":"SW down","t":15.25,"w":82},{"s":"SW down","t":15.5,"w":56},{"s":"SW down","t":15.75,"w":43},{"s":"SW down","t":16.0,"w":56},{"s":"SW down","t":16.25,"w":72},{"s":"SW down","t":16.5,"w":48},{"s":"SW down","t":16.75,"w":38},{"s":"SW down","t":17.0,"w":0},{"s":"SW down","t":17.25,"w":0},{"s":"SW down","t":17.5,"w":0},{"s":"SW down","t":17.75,"w":0},{"s":"SW down","t":18.0,"w":0}
],
"d":[
{"s":"390 S 325","t":7.3,"v":0.005},{"s":"390 S 325","t":7.38,"v":0.008},{"s":"390 S 325","t":7.46,"v":0.004},{"s":"390 S 325","t":7.54,"v":0.01},{"s":"390 S 325","t":7.62,"v":0.006},{"s":"390 S 325","t":7.7,"v":0.009},{"s":"390 S 325","t":7.78,"v":0.005},{"s":"390 S 325","t":7.86,"v":0.012},{"s":"390 S 325","t":7.94,"v":0.008},{"s":"390 S 325","t":8.02,"v":0.015},{"s":"390 S 325","t":8.06,"v":0.019},{"s":"390 S 325","t":8.1,"v":0.01},{"s":"390 S 325","t":8.18,"v":0.006},{"s":"390 S 325","t":8.26,"v":0.009},{"s":"390 S 325","t":8.34,"v":0.005},{"s":"390 S 325","t":8.42,"v":0.008},{"s":"390 S 325","t":8.5,"v":0.004},{"s":"390 S 325","t":8.58,"v":0.007},{"s":"390 S 325","t":8.66,"v":0.01},{"s":"390 S 325","t":8.74,"v":0.006},{"s":"390 S 325","t":8.82,"v":0.004},{"s":"390 S 325","t":8.9,"v":0.008},{"s":"390 S 325","t":8.98,"v":0.005},{"s":"390 S 325","t":9.06,"v":0.009},{"s":"390 S 325","t":9.14,"v":0.006},{"s":"390 S 325","t":9.22,"v":0.004},{"s":"390 S 325","t":9.4,"v":0.007},{"s":"390 S 325","t":9.48,"v":0.005},{"s":"390 S 325","t":9.56,"v":0.008},{"s":"390 S 325","t":9.64,"v":0.004},{"s":"390 S 325","t":9.72,"v":0.006},{"s":"390 S 325","t":9.8,"v":0.009},{"s":"390 S 325","t":9.88,"v":0.005},{"s":"390 S 325","t":9.96,"v":0.007},{"s":"390 S 325","t":10.04,"v":0.004},{"s":"390 S 325","t":10.2,"v":0.006},{"s":"390 S 325","t":10.28,"v":0.008},{"s":"390 S 325","t":10.36,"v":0.005},{"s":"390 S 325","t":10.44,"v":0.007},{"s":"390 S 325","t":10.52,"v":0.004},{"s":"390 S 325","t":10.6,"v":0.006},{"s":"390 S 325","t":10.68,"v":0.009},{"s":"390 S 325","t":10.76,"v":0.005},{"s":"390 S 325","t":10.84,"v":0.007},{"s":"390 S 325","t":10.92,"v":0.004},{"s":"390 S 325","t":11.0,"v":0.006},{"s":"390 S 325","t":11.08,"v":0.008},{"s":"390 S 325","t":11.16,"v":0.005},{"s":"390 S 325","t":11.24,"v":0.007},{"s":"390 S 325","t":11.32,"v":0.004},{"s":"390 S 325","t":11.4,"v":0.006},{"s":"390 S 325","t":11.48,"v":0.008},{"s":"390 S 325","t":11.56,"v":0.005},{"s":"390 S 325","t":11.64,"v":0.007},{"s":"390 S 325","t":11.72,"v":0.004},{"s":"390 S 325","t":11.92,"v":0.006},{"s":"390 S 325","t":12.0,"v":0.008},{"s":"390 S 325","t":12.08,"v":0.005},{"s":"390 S 325","t":12.16,"v":0.007},{"s":"390 S 325","t":12.24,"v":0.004},{"s":"390 S 325","t":12.32,"v":0.006},{"s":"390 S 325","t":12.4,"v":0.008},{"s":"390 S 325","t":12.56,"v":0.005},{"s":"390 S 325","t":12.64,"v":0.007},{"s":"390 S 325","t":12.72,"v":0.004},{"s":"390 S 325","t":12.8,"v":0.006},{"s":"390 S 325","t":12.88,"v":0.008},{"s":"390 S 325","t":12.96,"v":0.005},{"s":"390 S 325","t":13.04,"v":0.007},{"s":"390 S 325","t":13.12,"v":0.004},{"s":"390 S 325","t":13.2,"v":0.006},{"s":"390 S 325","t":13.28,"v":0.008},{"s":"390 S 325","t":13.36,"v":0.005},{"s":"390 S 325","t":13.44,"v":0.007},{"s":"390 S 325","t":13.52,"v":0.004},{"s":"390 S 325","t":13.6,"v":0.006},{"s":"390 S 325","t":13.68,"v":0.008},{"s":"390 S 325","t":13.76,"v":0.005},{"s":"390 S 325","t":13.84,"v":0.007},{"s":"390 S 325","t":13.92,"v":0.004},{"s":"390 S 325","t":14.0,"v":0.006},{"s":"390 S 325","t":14.08,"v":0.008},{"s":"390 S 325","t":14.16,"v":0.005},{"s":"390 S 325","t":14.24,"v":0.007},{"s":"390 S 325","t":14.32,"v":0.004},{"s":"390 S 325","t":14.4,"v":0.006},{"s":"390 S 325","t":14.48,"v":0.008},{"s":"390 S 325","t":14.56,"v":0.005},{"s":"390 S 325","t":14.64,"v":0.009},{"s":"390 S 325","t":14.72,"v":0.006},{"s":"390 S 325","t":14.8,"v":0.008},{"s":"390 S 325","t":14.88,"v":0.005},{"s":"390 S 325","t":14.96,"v":0.009},{"s":"390 S 325","t":15.04,"v":0.006},{"s":"390 S 325","t":15.12,"v":0.01},{"s":"390 S 325","t":15.2,"v":0.007},{"s":"390 S 325","t":15.28,"v":0.01},{"s":"390 S 325","t":15.36,"v":0.008},{"s":"390 S 325","t":15.44,"v":0.012},{"s":"390 S 325","t":15.52,"v":0.01},{"s":"390 S 325","t":15.6,"v":0.01},{"s":"390 S 325","t":15.7,"v":0.015},{"s":"390 S 325","t":15.75,"v":0.02},{"s":"390 S 325","t":15.8,"v":0.025},{"s":"390 S 325","t":15.85,"v":0.018},{"s":"390 S 325","t":15.9,"v":0.028},{"s":"390 S 325","t":15.95,"v":0.022},{"s":"390 S 325","t":16.0,"v":0.015},{"s":"390 S 325","t":16.05,"v":0.025},{"s":"390 S 325","t":16.1,"v":0.02},{"s":"390 S 325","t":16.15,"v":0.03},{"s":"390 S 325","t":16.2,"v":0.018},{"s":"390 S 325","t":16.25,"v":0.025},{"s":"390 S 325","t":16.3,"v":0.012},{"s":"390 S 325","t":16.35,"v":0.03},{"s":"390 S 325","t":16.4,"v":0.035},{"s":"390 S 325","t":16.45,"v":0.02},{"s":"390 S 325","t":16.5,"v":0.04},{"s":"390 S 325","t":16.55,"v":0.028},{"s":"390 S 325","t":16.6,"v":0.045},{"s":"390 S 325","t":16.65,"v":0.032},{"s":"390 S 325","t":16.7,"v":0.038},{"s":"390 S 325","t":16.75,"v":0.02},{"s":"390 S 325","t":16.8,"v":0.035},{"s":"390 S 325","t":16.85,"v":0.028},{"s":"390 S 325","t":16.9,"v":0.015},
{"s":"390 S 485","t":7.0,"v":0.0},{"s":"390 S 485","t":7.1,"v":0.02},{"s":"390 S 485","t":7.2,"v":0.045},{"s":"390 S 485","t":7.25,"v":0.03},{"s":"390 S 485","t":7.3,"v":0.0},{"s":"390 S 485","t":7.37,"v":0.07},{"s":"390 S 485","t":7.4,"v":0.037},{"s":"390 S 485","t":7.44,"v":0.032},{"s":"390 S 485","t":7.47,"v":0.041},{"s":"390 S 485","t":7.51,"v":0.055},{"s":"390 S 485","t":7.55,"v":0.023},{"s":"390 S 485","t":7.58,"v":0.059},{"s":"390 S 485","t":7.62,"v":0.073},{"s":"390 S 485","t":7.65,"v":0.061},{"s":"390 S 485","t":7.69,"v":0.046},{"s":"390 S 485","t":7.72,"v":0.081},{"s":"390 S 485","t":7.76,"v":0.064},{"s":"390 S 485","t":7.8,"v":0.055},{"s":"390 S 485","t":7.83,"v":0.073},{"s":"390 S 485","t":7.87,"v":0.059},{"s":"390 S 485","t":7.9,"v":0.066},{"s":"390 S 485","t":7.94,"v":0.086},{"s":"390 S 485","t":7.98,"v":0.055},{"s":"390 S 485","t":8.01,"v":0.07},{"s":"390 S 485","t":8.05,"v":0.061},{"s":"390 S 485","t":8.08,"v":0.081},{"s":"390 S 485","t":8.12,"v":0.068},{"s":"390 S 485","t":8.15,"v":0.086},{"s":"390 S 485","t":8.19,"v":0.059},{"s":"390 S 485","t":8.23,"v":0.077},{"s":"390 S 485","t":8.26,"v":0.088},{"s":"390 S 485","t":8.3,"v":0.064},{"s":"390 S 485","t":8.33,"v":0.081},{"s":"390 S 485","t":8.37,"v":0.073},{"s":"390 S 485","t":8.41,"v":0.081},{"s":"390 S 485","t":8.44,"v":0.077},{"s":"390 S 485","t":8.48,"v":0.079},{"s":"390 S 485","t":8.51,"v":0.086},{"s":"390 S 485","t":8.55,"v":0.073},{"s":"390 S 485","t":8.58,"v":0.081},{"s":"390 S 485","t":8.62,"v":0.077},{"s":"390 S 485","t":8.66,"v":0.084},{"s":"390 S 485","t":8.69,"v":0.079},{"s":"390 S 485","t":8.73,"v":0.086},{"s":"390 S 485","t":8.76,"v":0.088},{"s":"390 S 485","t":8.84,"v":0.095},{"s":"390 S 485","t":8.87,"v":0.086},{"s":"390 S 485","t":8.91,"v":0.081},{"s":"390 S 485","t":8.94,"v":0.093},{"s":"390 S 485","t":8.98,"v":0.086},{"s":"390 S 485","t":9.01,"v":0.081},{"s":"390 S 485","t":9.05,"v":0.077},{"s":"390 S 485","t":9.09,"v":0.084},{"s":"390 S 485","t":9.12,"v":0.081},{"s":"390 S 485","t":9.16,"v":0.077},{"s":"390 S 485","t":9.19,"v":0.086},{"s":"390 S 485","t":9.23,"v":0.081},{"s":"390 S 485","t":7.94,"v":0.1},{"s":"390 S 485","t":8.2,"v":0.097},
{"s":"390 S 485","t":9.4,"v":0.08},{"s":"390 S 485","t":9.45,"v":0.083},{"s":"390 S 485","t":9.5,"v":0.078},{"s":"390 S 485","t":9.55,"v":0.082},{"s":"390 S 485","t":9.6,"v":0.08},{"s":"390 S 485","t":9.65,"v":0.084},{"s":"390 S 485","t":9.7,"v":0.079},{"s":"390 S 485","t":9.75,"v":0.081},{"s":"390 S 485","t":9.8,"v":0.077},{"s":"390 S 485","t":9.9,"v":0.08},{"s":"390 S 485","t":9.95,"v":0.083},{"s":"390 S 485","t":10.0,"v":0.078},{"s":"390 S 485","t":10.05,"v":0.082},{"s":"390 S 485","t":10.1,"v":0.08},{"s":"390 S 485","t":10.15,"v":0.085},{"s":"390 S 485","t":10.2,"v":0.079},{"s":"390 S 485","t":10.25,"v":0.082},{"s":"390 S 485","t":10.3,"v":0.084},{"s":"390 S 485","t":10.35,"v":0.08},{"s":"390 S 485","t":10.4,"v":0.083},{"s":"390 S 485","t":10.45,"v":0.086},{"s":"390 S 485","t":10.5,"v":0.081},{"s":"390 S 485","t":10.55,"v":0.084},{"s":"390 S 485","t":10.6,"v":0.082},{"s":"390 S 485","t":10.65,"v":0.087},{"s":"390 S 485","t":10.7,"v":0.083},{"s":"390 S 485","t":10.75,"v":0.085},{"s":"390 S 485","t":10.8,"v":0.081},{"s":"390 S 485","t":10.85,"v":0.084},{"s":"390 S 485","t":10.9,"v":0.082},{"s":"390 S 485","t":10.95,"v":0.086},{"s":"390 S 485","t":11.0,"v":0.083},{"s":"390 S 485","t":11.05,"v":0.085},{"s":"390 S 485","t":11.1,"v":0.081},{"s":"390 S 485","t":11.15,"v":0.084},{"s":"390 S 485","t":11.2,"v":0.082},{"s":"390 S 485","t":11.25,"v":0.086},{"s":"390 S 485","t":11.3,"v":0.084},{"s":"390 S 485","t":11.35,"v":0.081},{"s":"390 S 485","t":11.4,"v":0.083},{"s":"390 S 485","t":11.45,"v":0.085},{"s":"390 S 485","t":11.5,"v":0.082},{"s":"390 S 485","t":11.55,"v":0.084},{"s":"390 S 485","t":11.6,"v":0.086},{"s":"390 S 485","t":11.9,"v":0.088},{"s":"390 S 485","t":11.95,"v":0.092},{"s":"390 S 485","t":12.0,"v":0.095},{"s":"390 S 485","t":12.05,"v":0.09},{"s":"390 S 485","t":12.1,"v":0.094},{"s":"390 S 485","t":12.15,"v":0.089},{"s":"390 S 485","t":12.2,"v":0.092},{"s":"390 S 485","t":12.25,"v":0.088},{"s":"390 S 485","t":12.3,"v":0.086},{"s":"390 S 485","t":12.4,"v":0.085},{"s":"390 S 485","t":12.45,"v":0.088},{"s":"390 S 485","t":12.5,"v":0.084},{"s":"390 S 485","t":12.55,"v":0.087},{"s":"390 S 485","t":12.6,"v":0.083},{"s":"390 S 485","t":12.65,"v":0.085},{"s":"390 S 485","t":12.7,"v":0.082},{"s":"390 S 485","t":12.75,"v":0.086},{"s":"390 S 485","t":12.8,"v":0.084},{"s":"390 S 485","t":12.85,"v":0.081},{"s":"390 S 485","t":12.9,"v":0.085},{"s":"390 S 485","t":12.95,"v":0.083},{"s":"390 S 485","t":13.0,"v":0.088},{"s":"390 S 485","t":13.05,"v":0.082},{"s":"390 S 485","t":13.1,"v":0.084},{"s":"390 S 485","t":13.15,"v":0.086},{"s":"390 S 485","t":13.2,"v":0.083},{"s":"390 S 485","t":13.25,"v":0.081},{"s":"390 S 485","t":13.3,"v":0.084},{"s":"390 S 485","t":13.35,"v":0.082},{"s":"390 S 485","t":13.4,"v":0.085},{"s":"390 S 485","t":13.45,"v":0.083},{"s":"390 S 485","t":13.5,"v":0.081},{"s":"390 S 485","t":13.55,"v":0.084},{"s":"390 S 485","t":13.6,"v":0.082},{"s":"390 S 485","t":13.65,"v":0.08},{"s":"390 S 485","t":13.7,"v":0.083},{"s":"390 S 485","t":13.75,"v":0.081},{"s":"390 S 485","t":13.8,"v":0.084},{"s":"390 S 485","t":13.85,"v":0.082},{"s":"390 S 485","t":13.9,"v":0.079},{"s":"390 S 485","t":13.95,"v":0.082},{"s":"390 S 485","t":14.0,"v":0.08},{"s":"390 S 485","t":14.05,"v":0.083},{"s":"390 S 485","t":14.1,"v":0.078},{"s":"390 S 485","t":14.15,"v":0.081},{"s":"390 S 485","t":14.2,"v":0.079},{"s":"390 S 485","t":14.25,"v":0.077},{"s":"390 S 485","t":14.3,"v":0.08},{"s":"390 S 485","t":14.35,"v":0.078},{"s":"390 S 485","t":14.4,"v":0.081},{"s":"390 S 485","t":14.45,"v":0.077},{"s":"390 S 485","t":14.5,"v":0.079},{"s":"390 S 485","t":14.55,"v":0.08},{"s":"390 S 485","t":14.6,"v":0.076},{"s":"390 S 485","t":14.65,"v":0.079},{"s":"390 S 485","t":14.7,"v":0.077},{"s":"390 S 485","t":14.75,"v":0.08},{"s":"390 S 485","t":14.8,"v":0.078},{"s":"390 S 485","t":14.85,"v":0.075},{"s":"390 S 485","t":14.9,"v":0.078},{"s":"390 S 485","t":14.95,"v":0.08},{"s":"390 S 485","t":15.0,"v":0.076},{"s":"390 S 485","t":15.05,"v":0.078},{"s":"390 S 485","t":15.1,"v":0.074},{"s":"390 S 485","t":15.15,"v":0.072},{"s":"390 S 485","t":15.2,"v":0.075},{"s":"390 S 485","t":15.25,"v":0.07},{"s":"390 S 485","t":15.3,"v":0.068},{"s":"390 S 485","t":15.35,"v":0.065},{"s":"390 S 485","t":15.45,"v":0.075},{"s":"390 S 485","t":15.55,"v":0.062},{"s":"390 S 485","t":15.65,"v":0.07},{"s":"390 S 485","t":9.42,"v":0.095},{"s":"390 S 485","t":10.12,"v":0.092},{"s":"390 S 485","t":11.12,"v":0.095},{"s":"390 S 485","t":12.72,"v":0.095},{"s":"390 S 485","t":13.38,"v":0.097},{"s":"390 S 485","t":13.46,"v":0.118},{"s":"390 S 485","t":14.52,"v":0.09},{"s":"390 S 485","t":15.02,"v":0.09},
{"s":"390 S 485","t":15.75,"v":0.088},{"s":"390 S 485","t":15.78,"v":0.068},{"s":"390 S 485","t":15.82,"v":0.055},{"s":"390 S 485","t":15.86,"v":0.081},{"s":"390 S 485","t":15.89,"v":0.064},{"s":"390 S 485","t":15.93,"v":0.073},{"s":"390 S 485","t":15.96,"v":0.095},{"s":"390 S 485","t":16.0,"v":0.059},{"s":"390 S 485","t":16.03,"v":0.068},{"s":"390 S 485","t":16.07,"v":0.05},{"s":"390 S 485","t":16.11,"v":0.077},{"s":"390 S 485","t":16.14,"v":0.059},{"s":"390 S 485","t":16.18,"v":0.046},{"s":"390 S 485","t":16.21,"v":0.068},{"s":"390 S 485","t":16.25,"v":0.055},{"s":"390 S 485","t":16.28,"v":0.077},{"s":"390 S 485","t":16.32,"v":0.041},{"s":"390 S 485","t":16.36,"v":0.059},{"s":"390 S 485","t":16.39,"v":0.028},{"s":"390 S 485","t":16.43,"v":0.05},{"s":"390 S 485","t":16.46,"v":0.081},{"s":"390 S 485","t":16.5,"v":0.032},{"s":"390 S 485","t":16.54,"v":0.055},{"s":"390 S 485","t":16.57,"v":0.014},{"s":"390 S 485","t":16.61,"v":0.046},{"s":"390 S 485","t":16.64,"v":0.099},{"s":"390 S 485","t":16.68,"v":0.059},{"s":"390 S 485","t":16.71,"v":0.032},{"s":"390 S 485","t":16.75,"v":0.01},{"s":"390 S 485","t":16.79,"v":0.037},{"s":"390 S 485","t":16.82,"v":0.064},{"s":"390 S 485","t":16.86,"v":0.028},{"s":"390 S 485","t":16.89,"v":0.041},{"s":"390 S 485","t":16.92,"v":0.028},{"s":"390 S 485","t":16.55,"v":0.0},
{"s":"390 S 650","t":7.3,"v":0.13},{"s":"390 S 650","t":7.31,"v":0.135},{"s":"390 S 650","t":7.32,"v":0.17},{"s":"390 S 650","t":7.3,"v":0.195},{"s":"390 S 650","t":7.33,"v":0.247},{"s":"390 S 650","t":7.35,"v":0.216},{"s":"390 S 650","t":7.37,"v":0.189},{"s":"390 S 650","t":7.4,"v":0.18},{"s":"390 S 650","t":7.44,"v":0.164},{"s":"390 S 650","t":7.47,"v":0.198},{"s":"390 S 650","t":7.51,"v":0.269},{"s":"390 S 650","t":7.55,"v":0.207},{"s":"390 S 650","t":7.58,"v":0.171},{"s":"390 S 650","t":7.62,"v":0.18},{"s":"390 S 650","t":7.65,"v":0.285},{"s":"390 S 650","t":7.67,"v":0.216},{"s":"390 S 650","t":7.69,"v":0.189},{"s":"390 S 650","t":7.72,"v":0.207},{"s":"390 S 650","t":7.76,"v":0.22},{"s":"390 S 650","t":7.8,"v":0.238},{"s":"390 S 650","t":7.83,"v":0.216},{"s":"390 S 650","t":7.87,"v":0.198},{"s":"390 S 650","t":7.9,"v":0.247},{"s":"390 S 650","t":7.94,"v":0.211},{"s":"390 S 650","t":7.98,"v":0.234},{"s":"390 S 650","t":8.01,"v":0.22},{"s":"390 S 650","t":8.05,"v":0.207},{"s":"390 S 650","t":8.08,"v":0.216},{"s":"390 S 650","t":8.12,"v":0.254},{"s":"390 S 650","t":8.15,"v":0.225},{"s":"390 S 650","t":8.19,"v":0.211},{"s":"390 S 650","t":8.23,"v":0.22},{"s":"390 S 650","t":8.26,"v":0.234},{"s":"390 S 650","t":8.3,"v":0.216},{"s":"390 S 650","t":8.33,"v":0.243},{"s":"390 S 650","t":8.37,"v":0.225},{"s":"390 S 650","t":8.41,"v":0.207},{"s":"390 S 650","t":8.44,"v":0.22},{"s":"390 S 650","t":8.48,"v":0.249},{"s":"390 S 650","t":8.51,"v":0.229},{"s":"390 S 650","t":8.55,"v":0.216},{"s":"390 S 650","t":8.58,"v":0.234},{"s":"390 S 650","t":8.62,"v":0.225},{"s":"390 S 650","t":8.66,"v":0.238},{"s":"390 S 650","t":8.69,"v":0.22},{"s":"390 S 650","t":8.73,"v":0.234},{"s":"390 S 650","t":8.76,"v":0.249},{"s":"390 S 650","t":8.8,"v":0.225},{"s":"390 S 650","t":8.84,"v":0.216},{"s":"390 S 650","t":8.87,"v":0.231},{"s":"390 S 650","t":8.91,"v":0.22},{"s":"390 S 650","t":8.94,"v":0.234},{"s":"390 S 650","t":8.98,"v":0.216},{"s":"390 S 650","t":9.01,"v":0.225},{"s":"390 S 650","t":9.05,"v":0.22},{"s":"390 S 650","t":9.09,"v":0.247},{"s":"390 S 650","t":9.12,"v":0.225},{"s":"390 S 650","t":9.16,"v":0.22},{"s":"390 S 650","t":9.19,"v":0.229},{"s":"390 S 650","t":9.23,"v":0.22},
{"s":"390 S 650","t":9.41,"v":0.225},{"s":"390 S 650","t":9.44,"v":0.265},{"s":"390 S 650","t":9.48,"v":0.231},{"s":"390 S 650","t":9.52,"v":0.22},{"s":"390 S 650","t":9.55,"v":0.229},{"s":"390 S 650","t":9.59,"v":0.247},{"s":"390 S 650","t":9.62,"v":0.234},{"s":"390 S 650","t":9.66,"v":0.22},{"s":"390 S 650","t":9.69,"v":0.238},{"s":"390 S 650","t":9.73,"v":0.216},{"s":"390 S 650","t":9.77,"v":0.245},{"s":"390 S 650","t":9.8,"v":0.229},{"s":"390 S 650","t":9.84,"v":0.22},{"s":"390 S 650","t":9.87,"v":0.216},{"s":"390 S 650","t":9.95,"v":0.238},{"s":"390 S 650","t":9.98,"v":0.225},{"s":"390 S 650","t":10.02,"v":0.216},
{"s":"390 S 650","t":10.23,"v":0.258},{"s":"390 S 650","t":10.27,"v":0.243},{"s":"390 S 650","t":10.3,"v":0.216},{"s":"390 S 650","t":10.34,"v":0.225},{"s":"390 S 650","t":10.38,"v":0.218},{"s":"390 S 650","t":10.41,"v":0.229},{"s":"390 S 650","t":10.45,"v":0.247},{"s":"390 S 650","t":10.48,"v":0.22},{"s":"390 S 650","t":10.52,"v":0.234},{"s":"390 S 650","t":10.55,"v":0.225},{"s":"390 S 650","t":10.59,"v":0.247},{"s":"390 S 650","t":10.63,"v":0.234},{"s":"390 S 650","t":10.66,"v":0.22},{"s":"390 S 650","t":10.7,"v":0.238},{"s":"390 S 650","t":10.73,"v":0.229},{"s":"390 S 650","t":10.77,"v":0.247},{"s":"390 S 650","t":10.81,"v":0.234},{"s":"390 S 650","t":10.84,"v":0.225},{"s":"390 S 650","t":10.88,"v":0.234},{"s":"390 S 650","t":10.91,"v":0.243},{"s":"390 S 650","t":10.95,"v":0.252},{"s":"390 S 650","t":10.98,"v":0.261},{"s":"390 S 650","t":11.02,"v":0.256},{"s":"390 S 650","t":11.06,"v":0.265},{"s":"390 S 650","t":11.09,"v":0.252},{"s":"390 S 650","t":11.13,"v":0.263},{"s":"390 S 650","t":11.16,"v":0.258},{"s":"390 S 650","t":11.2,"v":0.247},{"s":"390 S 650","t":11.23,"v":0.261},{"s":"390 S 650","t":11.27,"v":0.243},{"s":"390 S 650","t":11.31,"v":0.238},{"s":"390 S 650","t":11.34,"v":0.247},{"s":"390 S 650","t":11.38,"v":0.225},{"s":"390 S 650","t":11.41,"v":0.252},{"s":"390 S 650","t":11.45,"v":0.234},{"s":"390 S 650","t":11.49,"v":0.243},{"s":"390 S 650","t":11.52,"v":0.225},{"s":"390 S 650","t":11.56,"v":0.236},{"s":"390 S 650","t":11.59,"v":0.265},{"s":"390 S 650","t":11.63,"v":0.243},{"s":"390 S 650","t":11.66,"v":0.225},{"s":"390 S 650","t":11.7,"v":0.238},{"s":"390 S 650","t":11.74,"v":0.252},{"s":"390 S 650","t":11.77,"v":0.234},
{"s":"390 S 650","t":11.92,"v":0.261},{"s":"390 S 650","t":11.95,"v":0.274},{"s":"390 S 650","t":11.99,"v":0.287},{"s":"390 S 650","t":12.01,"v":0.323},{"s":"390 S 650","t":12.04,"v":0.328},{"s":"390 S 650","t":12.07,"v":0.332},{"s":"390 S 650","t":12.13,"v":0.325},{"s":"390 S 650","t":12.17,"v":0.287},{"s":"390 S 650","t":12.2,"v":0.278},{"s":"390 S 650","t":12.22,"v":0.341},{"s":"390 S 650","t":12.24,"v":0.265},{"s":"390 S 650","t":12.27,"v":0.283},{"s":"390 S 650","t":12.31,"v":0.296},{"s":"390 S 650","t":12.33,"v":0.314},{"s":"390 S 650","t":12.36,"v":0.269},{"s":"390 S 650","t":12.38,"v":0.252},{"s":"390 S 650","t":12.28,"v":0.261},
{"s":"390 S 650","t":12.56,"v":0.287},{"s":"390 S 650","t":12.57,"v":0.267},{"s":"390 S 650","t":12.6,"v":0.261},{"s":"390 S 650","t":12.63,"v":0.243},{"s":"390 S 650","t":12.67,"v":0.252},{"s":"390 S 650","t":12.7,"v":0.238},{"s":"390 S 650","t":12.74,"v":0.247},{"s":"390 S 650","t":12.78,"v":0.272},{"s":"390 S 650","t":12.81,"v":0.252},{"s":"390 S 650","t":12.85,"v":0.234},{"s":"390 S 650","t":12.88,"v":0.225},{"s":"390 S 650","t":12.92,"v":0.22},{"s":"390 S 650","t":12.95,"v":0.238},{"s":"390 S 650","t":12.99,"v":0.234},{"s":"390 S 650","t":13.03,"v":0.247},{"s":"390 S 650","t":13.06,"v":0.256},{"s":"390 S 650","t":13.1,"v":0.243},{"s":"390 S 650","t":13.13,"v":0.296},{"s":"390 S 650","t":13.15,"v":0.261},{"s":"390 S 650","t":13.17,"v":0.269},{"s":"390 S 650","t":13.2,"v":0.243},{"s":"390 S 650","t":13.24,"v":0.252},{"s":"390 S 650","t":13.28,"v":0.234},{"s":"390 S 650","t":13.31,"v":0.225},{"s":"390 S 650","t":13.35,"v":0.216},{"s":"390 S 650","t":13.38,"v":0.22},{"s":"390 S 650","t":13.46,"v":0.316},
{"s":"390 S 650","t":13.42,"v":0.216},{"s":"390 S 650","t":13.49,"v":0.22},{"s":"390 S 650","t":13.53,"v":0.211},{"s":"390 S 650","t":13.56,"v":0.218},{"s":"390 S 650","t":13.6,"v":0.225},{"s":"390 S 650","t":13.63,"v":0.252},{"s":"390 S 650","t":13.67,"v":0.214},{"s":"390 S 650","t":13.71,"v":0.22},{"s":"390 S 650","t":13.74,"v":0.211},{"s":"390 S 650","t":13.78,"v":0.252},{"s":"390 S 650","t":13.81,"v":0.216},{"s":"390 S 650","t":13.85,"v":0.22},{"s":"390 S 650","t":13.89,"v":0.225},{"s":"390 S 650","t":13.92,"v":0.216},{"s":"390 S 650","t":13.96,"v":0.22},{"s":"390 S 650","t":13.99,"v":0.211},{"s":"390 S 650","t":14.03,"v":0.216},{"s":"390 S 650","t":14.06,"v":0.218},{"s":"390 S 650","t":14.1,"v":0.214},{"s":"390 S 650","t":14.14,"v":0.209},{"s":"390 S 650","t":14.17,"v":0.216},{"s":"390 S 650","t":14.21,"v":0.22},{"s":"390 S 650","t":14.24,"v":0.211},{"s":"390 S 650","t":14.28,"v":0.247},{"s":"390 S 650","t":14.32,"v":0.216},{"s":"390 S 650","t":14.35,"v":0.209},{"s":"390 S 650","t":14.39,"v":0.214},{"s":"390 S 650","t":14.42,"v":0.216},{"s":"390 S 650","t":14.46,"v":0.209},{"s":"390 S 650","t":14.49,"v":0.216},{"s":"390 S 650","t":14.53,"v":0.207},{"s":"390 S 650","t":14.57,"v":0.216},{"s":"390 S 650","t":14.6,"v":0.243},{"s":"390 S 650","t":14.64,"v":0.211},{"s":"390 S 650","t":14.67,"v":0.218},{"s":"390 S 650","t":14.71,"v":0.207},{"s":"390 S 650","t":14.74,"v":0.216},{"s":"390 S 650","t":14.78,"v":0.211},{"s":"390 S 650","t":14.82,"v":0.22},{"s":"390 S 650","t":14.85,"v":0.214},{"s":"390 S 650","t":14.89,"v":0.207},{"s":"390 S 650","t":14.92,"v":0.234},{"s":"390 S 650","t":14.96,"v":0.216},{"s":"390 S 650","t":15.0,"v":0.22},{"s":"390 S 650","t":15.03,"v":0.211},{"s":"390 S 650","t":15.07,"v":0.216},{"s":"390 S 650","t":15.1,"v":0.252},{"s":"390 S 650","t":15.14,"v":0.211},{"s":"390 S 650","t":15.17,"v":0.218},{"s":"390 S 650","t":15.21,"v":0.207},{"s":"390 S 650","t":15.25,"v":0.214},{"s":"390 S 650","t":15.28,"v":0.198},{"s":"390 S 650","t":15.32,"v":0.216},{"s":"390 S 650","t":15.35,"v":0.229},{"s":"390 S 650","t":15.39,"v":0.211},{"s":"390 S 650","t":15.43,"v":0.202},{"s":"390 S 650","t":15.46,"v":0.247},{"s":"390 S 650","t":15.5,"v":0.216},{"s":"390 S 650","t":15.53,"v":0.198},{"s":"390 S 650","t":15.57,"v":0.189},
{"s":"390 S 650","t":15.75,"v":0.22},{"s":"390 S 650","t":15.78,"v":0.238},{"s":"390 S 650","t":15.82,"v":0.216},{"s":"390 S 650","t":15.86,"v":0.207},{"s":"390 S 650","t":15.89,"v":0.225},{"s":"390 S 650","t":15.93,"v":0.189},{"s":"390 S 650","t":15.96,"v":0.198},{"s":"390 S 650","t":16.0,"v":0.216},{"s":"390 S 650","t":16.03,"v":0.207},{"s":"390 S 650","t":16.07,"v":0.175},{"s":"390 S 650","t":16.11,"v":0.193},{"s":"390 S 650","t":16.14,"v":0.234},{"s":"390 S 650","t":16.18,"v":0.198},{"s":"390 S 650","t":16.21,"v":0.216},{"s":"390 S 650","t":16.25,"v":0.184},{"s":"390 S 650","t":16.28,"v":0.207},{"s":"390 S 650","t":16.32,"v":0.171},{"s":"390 S 650","t":16.36,"v":0.193},{"s":"390 S 650","t":16.39,"v":0.216},{"s":"390 S 650","t":16.43,"v":0.207},{"s":"390 S 650","t":16.46,"v":0.234},{"s":"390 S 650","t":16.5,"v":0.189},{"s":"390 S 650","t":16.54,"v":0.171},{"s":"390 S 650","t":16.57,"v":0.198},{"s":"390 S 650","t":16.61,"v":0.149},{"s":"390 S 650","t":16.64,"v":0.158},{"s":"390 S 650","t":16.68,"v":0.153},{"s":"390 S 650","t":16.71,"v":0.216},{"s":"390 S 650","t":16.75,"v":0.207},{"s":"390 S 650","t":16.79,"v":0.292},{"s":"390 S 650","t":16.82,"v":0.274},{"s":"390 S 650","t":16.86,"v":0.269},{"s":"390 S 650","t":16.89,"v":0.222},{"s":"390 S 650","t":16.91,"v":0.256},{"s":"390 S 650","t":16.84,"v":0.22}
],
"dw":[
{"s":"SW down","t":6.0,"w":0},{"s":"SW down","t":6.25,"w":0},{"s":"SW down","t":6.5,"w":0},{"s":"SW down","t":6.75,"w":0},{"s":"SW down","t":7.0,"w":0},{"s":"SW down","t":7.25,"w":0},{"s":"SW down","t":7.5,"w":55},{"s":"SW down","t":7.75,"w":75},{"s":"SW down","t":8.0,"w":75},{"s":"SW down","t":8.25,"w":75},{"s":"SW down","t":8.5,"w":88},{"s":"SW down","t":8.75,"w":149},{"s":"SW down","t":9.0,"w":185},{"s":"SW down","t":9.25,"w":190},{"s":"SW down","t":9.5,"w":210},{"s":"SW down","t":9.75,"w":243},{"s":"SW down","t":10.0,"w":300},{"s":"SW down","t":10.25,"w":266},{"s":"SW down","t":10.5,"w":312},{"s":"SW down","t":10.75,"w":414},{"s":"SW down","t":11.0,"w":398},{"s":"SW down","t":11.25,"w":379},{"s":"SW down","t":11.5,"w":497},{"s":"SW down","t":11.75,"w":463},{"s":"SW down","t":12.0,"w":668},{"s":"SW down","t":12.25,"w":398},{"s":"SW down","t":12.5,"w":403},{"s":"SW down","t":12.75,"w":357},{"s":"SW down","t":13.0,"w":333},{"s":"SW down","t":13.25,"w":319},{"s":"SW down","t":13.5,"w":373},{"s":"SW down","t":13.75,"w":299},{"s":"SW down","t":14.0,"w":282},{"s":"SW down","t":14.25,"w":228},{"s":"SW down","t":14.5,"w":230},{"s":"SW down","t":14.75,"w":224},{"s":"SW down","t":15.0,"w":167},{"s":"SW down","t":15.25,"w":164},{"s":"SW down","t":15.5,"w":109},{"s":"SW down","t":15.75,"w":82},{"s":"SW down","t":16.0,"w":78},{"s":"SW down","t":16.25,"w":64},{"s":"SW down","t":16.5,"w":33},{"s":"SW down","t":16.75,"w":0},{"s":"SW down","t":17.0,"w":0},{"s":"SW down","t":17.25,"w":0},{"s":"SW down","t":17.5,"w":0},{"s":"SW down","t":17.75,"w":0},{"s":"SW down","t":18.0,"w":0}
]
},
"bounds":"flush",
"columns":2,
"spacing":{"row":71,"column":185},
"resolve":{"scale":{"color":"independent","shape":"independent","size":"independent","stroke":"independent"}},
"concat":[
{"width":750,"height":375,
 "layer":[
  {"layer":[
   {"data":{"name":"a"},"mark":{"type":"point","filled":true,"opacity":1,"strokeWidth":0},
    "encoding":{
     "x":{"field":"t","type":"quantitative","scale":{"domain":[6,18],"nice":false,"zero":false},"axis":{"values":[6,9,12,15,18],"labelExpr":"'02-28-21 ' + (datum.value < 10 ? '0' : '') + datum.value + ':00'","labelFontSize":22,"title":null,"grid":true,"tickSize":7,"labelPadding":9,"labelFlush":false,"labelOverlap":false}},
     "y":{"field":"v","type":"quantitative","scale":{"domain":[0,0.6],"nice":false},"axis":{"orient":"left","values":[0,0.1,0.2,0.3,0.4,0.5,0.6],"format":".1f","title":"Normalized signal","titleFontWeight":"bold","ticks":false,"labelPadding":17,"titlePadding":14,"grid":true}},
     "color":{"field":"s","type":"nominal","scale":{"domain":["390 F 325","390 F 485","390 F 650","SW down"],"range":["#5B9BD5","#548235","#333F50","#ED7D31"]},"legend":{"title":null,"orient":"top-right","offset":6,"padding":12,"fillColor":"white","rowPadding":12,"labelOffset":8,"symbolStrokeWidth":1,"encode":{"symbols":{"update":{"size":{"signal":"datum.value == 'SW down' ? 110 : (datum.value == '390 F 325' ? 28 : 100)"}}}}}},
     "shape":{"field":"s","type":"nominal","scale":{"domain":["390 F 325","390 F 485","390 F 650","SW down"],"range":["circle","M-0.13,-1H0.13V-0.13H1V0.13H0.13V1H-0.13V0.13H-1V-0.13H-0.13Z","M-0.13,-1H0.13V-0.13H1V0.13H0.13V1H-0.13V0.13H-1V-0.13H-0.13Z","circle"]}},
     "size":{"field":"s","type":"nominal","legend":null,"scale":{"type":"ordinal","domain":["390 F 325","390 F 485","390 F 650","SW down"],"range":[20,100,100,110]}}
    }},
   {"data":{"values":[{"lab":"(a)"}]},"mark":{"type":"text","align":"left","baseline":"middle","fontSize":30,"font":"Lato"},
    "encoding":{"x":{"datum":6.19},"y":{"datum":0.546},"text":{"field":"lab"}}}
  ]},
  {"data":{"name":"aw"},"mark":{"type":"point","filled":true,"opacity":1,"strokeWidth":1},
   "encoding":{
    "x":{"field":"t","type":"quantitative"},
    "y":{"field":"w","type":"quantitative","scale":{"domain":[0,1000],"nice":false},"axis":{"orient":"right","values":[0,100,200,300,400,500,600,700,800,900,1000],"format":"d","title":"SW down,  W m⁻²","titleFontWeight":"bold","titleAngle":270,"titleBaseline":"top","grid":false,"tickSize":5,"labelPadding":8,"titlePadding":10}},
    "color":{"field":"s","type":"nominal"},
    "shape":{"field":"s","type":"nominal"},
    "size":{"field":"s","type":"nominal","legend":null},
    "stroke":{"field":"s","type":"nominal","scale":{"domain":["390 F 325","390 F 485","390 F 650","SW down"],"range":["#5B9BD5","#548235","#333F50","#8B3F0F"]}}
   }}
 ],
 "resolve":{"scale":{"y":"independent"}}
},
{"width":746,"height":375,
 "layer":[
  {"layer":[
   {"data":{"name":"b"},"mark":{"type":"point","filled":true,"opacity":1,"strokeWidth":0},
    "encoding":{
     "x":{"field":"t","type":"quantitative","scale":{"domain":[6,18],"nice":false,"zero":false},"axis":{"values":[6,9,12,15,18],"labelExpr":"'3-6-21 ' + datum.value + ':00'","labelFont":"DejaVu Sans","labelFontSize":17.5,"title":null,"grid":true,"tickSize":7,"labelPadding":10,"labelFlush":false,"labelOverlap":false}},
     "y":{"field":"v","type":"quantitative","scale":{"domain":[0,0.7],"nice":false},"axis":{"orient":"left","values":[0,0.1,0.2,0.3,0.4,0.5,0.6,0.7],"format":".1f","title":"Normalized signal","titleFontWeight":"bold","ticks":false,"labelPadding":17,"titlePadding":14,"grid":true}},
     "color":{"field":"s","type":"nominal","scale":{"domain":["390 F 325","390 F 650","390 F 485","SW down"],"range":["#5B9BD5","#333F50","#548235","#ED7D31"]},"legend":{"title":null,"orient":"top-left","columns":2,"columnPadding":32,"offset":10,"padding":12,"fillColor":"white","rowPadding":10,"labelOffset":8,"symbolStrokeWidth":1,"encode":{"symbols":{"update":{"size":{"signal":"datum.value == 'SW down' ? 110 : (datum.value == '390 F 485' ? 100 : 28)"}}}}}},
     "shape":{"field":"s","type":"nominal","scale":{"domain":["390 F 325","390 F 650","390 F 485","SW down"],"range":["circle","circle","M-0.13,-1H0.13V-0.13H1V0.13H0.13V1H-0.13V0.13H-1V-0.13H-0.13Z","circle"]}},
     "size":{"field":"s","type":"nominal","legend":null,"scale":{"type":"ordinal","domain":["390 F 325","390 F 650","390 F 485","SW down"],"range":[20,26,100,110]}}
    }},
   {"data":{"values":[{"lab":"(b)"}]},"mark":{"type":"text","align":"right","baseline":"middle","fontSize":26,"font":"DejaVu Sans"},
    "encoding":{"x":{"datum":17.77},"y":{"datum":0.641},"text":{"field":"lab"}}}
  ]},
  {"data":{"name":"bw"},"mark":{"type":"point","filled":true,"opacity":1,"strokeWidth":1},
   "encoding":{
    "x":{"field":"t","type":"quantitative"},
    "y":{"field":"w","type":"quantitative","scale":{"domain":[0,1000],"nice":false},"axis":{"orient":"right","values":[0,100,200,300,400,500,600,700,800,900,1000],"format":"d","labelFont":"DejaVu Sans","labelFontSize":17.5,"title":"SW down, W m⁻²","titleFontWeight":"normal","titleFontSize":21,"titleAngle":270,"titleBaseline":"top","grid":false,"tickSize":5,"labelPadding":8,"titlePadding":10}},
    "color":{"field":"s","type":"nominal"},
    "shape":{"field":"s","type":"nominal"},
    "size":{"field":"s","type":"nominal","legend":null},
    "stroke":{"field":"s","type":"nominal","scale":{"domain":["390 F 325","390 F 650","390 F 485","SW down"],"range":["#5B9BD5","#333F50","#548235","#8B3F0F"]}}
   }}
 ],
 "resolve":{"scale":{"y":"independent"}}
},
{"width":750,"height":373,
 "layer":[
  {"layer":[
   {"data":{"name":"c"},"mark":{"type":"point","filled":true,"opacity":1,"strokeWidth":0},
    "encoding":{
     "x":{"field":"t","type":"quantitative","scale":{"domain":[6,18],"nice":false,"zero":false},"axis":{"values":[6,9,12,15,18],"labelExpr":"'02-28-21 ' + (datum.value < 10 ? '0' : '') + datum.value + ':00'","labelFontSize":22,"title":null,"grid":true,"tickSize":7,"labelPadding":9,"labelFlush":false,"labelOverlap":false}},
     "y":{"field":"v","type":"quantitative","scale":{"domain":[0,0.7],"nice":false},"axis":{"orient":"left","values":[0,0.1,0.2,0.3,0.4,0.5,0.6,0.7],"format":".1f","title":"Normalized signal","titleFontWeight":"bold","ticks":false,"labelPadding":17,"titlePadding":14,"grid":true}},
     "color":{"field":"s","type":"nominal","scale":{"domain":["390 S 325","390 S 485","390 S 650","SW down"],"range":["#5B9BD5","#548235","#333F50","#ED7D31"]},"legend":{"title":null,"orient":"top-right","offset":6,"padding":12,"fillColor":"white","rowPadding":12,"labelOffset":8,"symbolStrokeWidth":1,"encode":{"symbols":{"update":{"size":{"signal":"datum.value == 'SW down' ? 110 : (datum.value == '390 S 325' ? 28 : 100)"}}}}}},
     "shape":{"field":"s","type":"nominal","scale":{"domain":["390 S 325","390 S 485","390 S 650","SW down"],"range":["circle","M-0.13,-1H0.13V-0.13H1V0.13H0.13V1H-0.13V0.13H-1V-0.13H-0.13Z","M-0.13,-1H0.13V-0.13H1V0.13H0.13V1H-0.13V0.13H-1V-0.13H-0.13Z","circle"]}},
     "size":{"field":"s","type":"nominal","legend":null,"scale":{"type":"ordinal","domain":["390 S 325","390 S 485","390 S 650","SW down"],"range":[20,100,100,110]}}
    }},
   {"data":{"values":[{"lab":"(c)"}]},"mark":{"type":"text","align":"left","baseline":"middle","fontSize":30,"font":"Lato"},
    "encoding":{"x":{"datum":6.18},"y":{"datum":0.638},"text":{"field":"lab"}}}
  ]},
  {"data":{"name":"cw"},"mark":{"type":"point","filled":true,"opacity":1,"strokeWidth":1},
   "encoding":{
    "x":{"field":"t","type":"quantitative"},
    "y":{"field":"w","type":"quantitative","scale":{"domain":[0,1000],"nice":false},"axis":{"orient":"right","values":[0,100,200,300,400,500,600,700,800,900,1000],"format":"d","title":"SW down,  W m⁻²","titleFontWeight":"bold","titleAngle":270,"titleBaseline":"top","grid":false,"tickSize":5,"labelPadding":8,"titlePadding":10}},
    "color":{"field":"s","type":"nominal"},
    "shape":{"field":"s","type":"nominal"},
    "size":{"field":"s","type":"nominal","legend":null},
    "stroke":{"field":"s","type":"nominal","scale":{"domain":["390 S 325","390 S 485","390 S 650","SW down"],"range":["#5B9BD5","#548235","#333F50","#8B3F0F"]}}
   }}
 ],
 "resolve":{"scale":{"y":"independent"}}
},
{"width":746,"height":373,
 "layer":[
  {"layer":[
   {"data":{"name":"d"},"mark":{"type":"point","filled":true,"opacity":1,"strokeWidth":0},
    "encoding":{
     "x":{"field":"t","type":"quantitative","scale":{"domain":[6,18],"nice":false,"zero":false},"axis":{"values":[6,9,12,15,18],"labelExpr":"'03-06-21 ' + (datum.value < 10 ? '0' : '') + datum.value + ':00'","labelFont":"DejaVu Sans","labelFontSize":17.5,"title":null,"grid":true,"tickSize":7,"labelPadding":10,"labelFlush":false,"labelOverlap":false}},
     "y":{"field":"v","type":"quantitative","scale":{"domain":[0,0.5],"nice":false},"axis":{"orient":"left","values":[0,0.1,0.2,0.3,0.4,0.5],"format":".1f","title":"Normalized signal","titleFontWeight":"bold","ticks":false,"labelPadding":17,"titlePadding":14,"grid":true}},
     "color":{"field":"s","type":"nominal","scale":{"domain":["390 S 325","390 S 650","390 S 485","SW down"],"range":["#5B9BD5","#333F50","#548235","#ED7D31"]},"legend":{"title":null,"orient":"top-left","columns":2,"columnPadding":32,"offset":10,"padding":12,"fillColor":"white","rowPadding":10,"labelOffset":8,"symbolStrokeWidth":1,"encode":{"symbols":{"update":{"size":{"signal":"datum.value == 'SW down' ? 110 : (datum.value == '390 S 325' ? 28 : 100)"}}}}}},
     "shape":{"field":"s","type":"nominal","scale":{"domain":["390 S 325","390 S 650","390 S 485","SW down"],"range":["circle","M-0.13,-1H0.13V-0.13H1V0.13H0.13V1H-0.13V0.13H-1V-0.13H-0.13Z","M-0.13,-1H0.13V-0.13H1V0.13H0.13V1H-0.13V0.13H-1V-0.13H-0.13Z","circle"]}},
     "size":{"field":"s","type":"nominal","legend":null,"scale":{"type":"ordinal","domain":["390 S 325","390 S 650","390 S 485","SW down"],"range":[20,100,100,110]}}
    }},
   {"data":{"values":[{"lab":"(d)"}]},"mark":{"type":"text","align":"right","baseline":"middle","fontSize":26,"font":"DejaVu Sans"},
    "encoding":{"x":{"datum":17.63},"y":{"datum":0.453},"text":{"field":"lab"}}}
  ]},
  {"data":{"name":"dw"},"mark":{"type":"point","filled":true,"opacity":1,"strokeWidth":1},
   "encoding":{
    "x":{"field":"t","type":"quantitative"},
    "y":{"field":"w","type":"quantitative","scale":{"domain":[0,1000],"nice":false},"axis":{"orient":"right","values":[0,100,200,300,400,500,600,700,800,900,1000],"format":"d","labelFont":"DejaVu Sans","labelFontSize":17.5,"title":"SW down, W m⁻²","titleFontWeight":"normal","titleFontSize":21,"titleAngle":270,"titleBaseline":"top","grid":false,"tickSize":5,"labelPadding":8,"titlePadding":10}},
    "color":{"field":"s","type":"nominal"},
    "shape":{"field":"s","type":"nominal"},
    "size":{"field":"s","type":"nominal","legend":null},
    "stroke":{"field":"s","type":"nominal","scale":{"domain":["390 S 325","390 S 650","390 S 485","SW down"],"range":["#5B9BD5","#333F50","#548235","#8B3F0F"]}}
   }}
 ],
 "resolve":{"scale":{"y":"independent"}}
}
]
}
